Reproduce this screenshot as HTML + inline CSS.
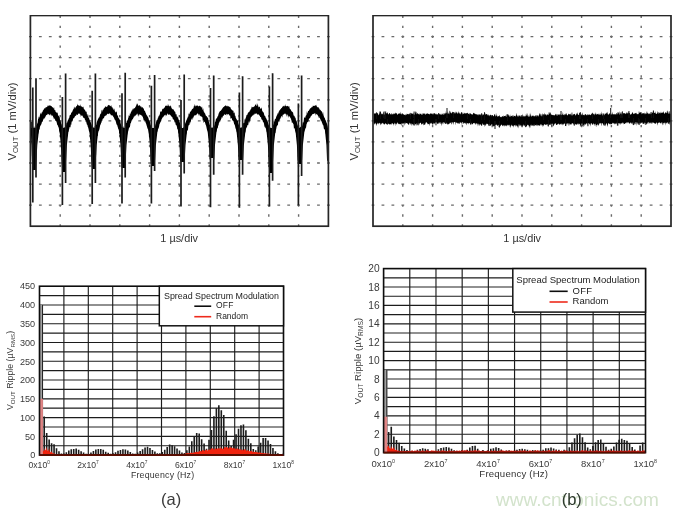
<!DOCTYPE html><html><head><meta charset="utf-8"><style>html,body{margin:0;padding:0;background:#fff;}svg{display:block;}</style></head><body>
<svg width="679" height="516" viewBox="0 0 679 516" font-family='"Liberation Sans", sans-serif'>
<defs><filter id="bl" x="0" y="0" width="1" height="1"><feGaussianBlur stdDeviation="0.6"/></filter></defs>
<rect width="679" height="516" fill="#fff"/>
<g filter="url(#bl)">
<path d="M59.5 15.75h1.4v2.3h-1.4zM59.5 25.68h1.4v2.3h-1.4zM59.5 35.61h1.4v2.3h-1.4zM59.5 45.54h1.4v2.3h-1.4zM59.5 55.47h1.4v2.3h-1.4zM59.5 65.4h1.4v2.3h-1.4zM59.5 75.33h1.4v2.3h-1.4zM59.5 85.26h1.4v2.3h-1.4zM59.5 95.19h1.4v2.3h-1.4zM59.5 105.12h1.4v2.3h-1.4zM59.5 115.05h1.4v2.3h-1.4zM59.5 124.98h1.4v2.3h-1.4zM59.5 134.91h1.4v2.3h-1.4zM59.5 144.84h1.4v2.3h-1.4zM59.5 154.77h1.4v2.3h-1.4zM59.5 164.7h1.4v2.3h-1.4zM59.5 174.63h1.4v2.3h-1.4zM59.5 184.56h1.4v2.3h-1.4zM59.5 194.49h1.4v2.3h-1.4zM59.5 204.42h1.4v2.3h-1.4zM59.5 214.35h1.4v2.3h-1.4zM59.5 224.28h1.4v2.3h-1.4zM89.3 15.75h1.4v2.3h-1.4zM89.3 25.68h1.4v2.3h-1.4zM89.3 35.61h1.4v2.3h-1.4zM89.3 45.54h1.4v2.3h-1.4zM89.3 55.47h1.4v2.3h-1.4zM89.3 65.4h1.4v2.3h-1.4zM89.3 75.33h1.4v2.3h-1.4zM89.3 85.26h1.4v2.3h-1.4zM89.3 95.19h1.4v2.3h-1.4zM89.3 105.12h1.4v2.3h-1.4zM89.3 115.05h1.4v2.3h-1.4zM89.3 124.98h1.4v2.3h-1.4zM89.3 134.91h1.4v2.3h-1.4zM89.3 144.84h1.4v2.3h-1.4zM89.3 154.77h1.4v2.3h-1.4zM89.3 164.7h1.4v2.3h-1.4zM89.3 174.63h1.4v2.3h-1.4zM89.3 184.56h1.4v2.3h-1.4zM89.3 194.49h1.4v2.3h-1.4zM89.3 204.42h1.4v2.3h-1.4zM89.3 214.35h1.4v2.3h-1.4zM89.3 224.28h1.4v2.3h-1.4zM119.1 15.75h1.4v2.3h-1.4zM119.1 25.68h1.4v2.3h-1.4zM119.1 35.61h1.4v2.3h-1.4zM119.1 45.54h1.4v2.3h-1.4zM119.1 55.47h1.4v2.3h-1.4zM119.1 65.4h1.4v2.3h-1.4zM119.1 75.33h1.4v2.3h-1.4zM119.1 85.26h1.4v2.3h-1.4zM119.1 95.19h1.4v2.3h-1.4zM119.1 105.12h1.4v2.3h-1.4zM119.1 115.05h1.4v2.3h-1.4zM119.1 124.98h1.4v2.3h-1.4zM119.1 134.91h1.4v2.3h-1.4zM119.1 144.84h1.4v2.3h-1.4zM119.1 154.77h1.4v2.3h-1.4zM119.1 164.7h1.4v2.3h-1.4zM119.1 174.63h1.4v2.3h-1.4zM119.1 184.56h1.4v2.3h-1.4zM119.1 194.49h1.4v2.3h-1.4zM119.1 204.42h1.4v2.3h-1.4zM119.1 214.35h1.4v2.3h-1.4zM119.1 224.28h1.4v2.3h-1.4zM148.9 15.75h1.4v2.3h-1.4zM148.9 25.68h1.4v2.3h-1.4zM148.9 35.61h1.4v2.3h-1.4zM148.9 45.54h1.4v2.3h-1.4zM148.9 55.47h1.4v2.3h-1.4zM148.9 65.4h1.4v2.3h-1.4zM148.9 75.33h1.4v2.3h-1.4zM148.9 85.26h1.4v2.3h-1.4zM148.9 95.19h1.4v2.3h-1.4zM148.9 105.12h1.4v2.3h-1.4zM148.9 115.05h1.4v2.3h-1.4zM148.9 124.98h1.4v2.3h-1.4zM148.9 134.91h1.4v2.3h-1.4zM148.9 144.84h1.4v2.3h-1.4zM148.9 154.77h1.4v2.3h-1.4zM148.9 164.7h1.4v2.3h-1.4zM148.9 174.63h1.4v2.3h-1.4zM148.9 184.56h1.4v2.3h-1.4zM148.9 194.49h1.4v2.3h-1.4zM148.9 204.42h1.4v2.3h-1.4zM148.9 214.35h1.4v2.3h-1.4zM148.9 224.28h1.4v2.3h-1.4zM178.7 15.75h1.4v2.3h-1.4zM178.7 25.68h1.4v2.3h-1.4zM178.7 35.61h1.4v2.3h-1.4zM178.7 45.54h1.4v2.3h-1.4zM178.7 55.47h1.4v2.3h-1.4zM178.7 65.4h1.4v2.3h-1.4zM178.7 75.33h1.4v2.3h-1.4zM178.7 85.26h1.4v2.3h-1.4zM178.7 95.19h1.4v2.3h-1.4zM178.7 105.12h1.4v2.3h-1.4zM178.7 115.05h1.4v2.3h-1.4zM178.7 124.98h1.4v2.3h-1.4zM178.7 134.91h1.4v2.3h-1.4zM178.7 144.84h1.4v2.3h-1.4zM178.7 154.77h1.4v2.3h-1.4zM178.7 164.7h1.4v2.3h-1.4zM178.7 174.63h1.4v2.3h-1.4zM178.7 184.56h1.4v2.3h-1.4zM178.7 194.49h1.4v2.3h-1.4zM178.7 204.42h1.4v2.3h-1.4zM178.7 214.35h1.4v2.3h-1.4zM178.7 224.28h1.4v2.3h-1.4zM208.5 15.75h1.4v2.3h-1.4zM208.5 25.68h1.4v2.3h-1.4zM208.5 35.61h1.4v2.3h-1.4zM208.5 45.54h1.4v2.3h-1.4zM208.5 55.47h1.4v2.3h-1.4zM208.5 65.4h1.4v2.3h-1.4zM208.5 75.33h1.4v2.3h-1.4zM208.5 85.26h1.4v2.3h-1.4zM208.5 95.19h1.4v2.3h-1.4zM208.5 105.12h1.4v2.3h-1.4zM208.5 115.05h1.4v2.3h-1.4zM208.5 124.98h1.4v2.3h-1.4zM208.5 134.91h1.4v2.3h-1.4zM208.5 144.84h1.4v2.3h-1.4zM208.5 154.77h1.4v2.3h-1.4zM208.5 164.7h1.4v2.3h-1.4zM208.5 174.63h1.4v2.3h-1.4zM208.5 184.56h1.4v2.3h-1.4zM208.5 194.49h1.4v2.3h-1.4zM208.5 204.42h1.4v2.3h-1.4zM208.5 214.35h1.4v2.3h-1.4zM208.5 224.28h1.4v2.3h-1.4zM238.3 15.75h1.4v2.3h-1.4zM238.3 25.68h1.4v2.3h-1.4zM238.3 35.61h1.4v2.3h-1.4zM238.3 45.54h1.4v2.3h-1.4zM238.3 55.47h1.4v2.3h-1.4zM238.3 65.4h1.4v2.3h-1.4zM238.3 75.33h1.4v2.3h-1.4zM238.3 85.26h1.4v2.3h-1.4zM238.3 95.19h1.4v2.3h-1.4zM238.3 105.12h1.4v2.3h-1.4zM238.3 115.05h1.4v2.3h-1.4zM238.3 124.98h1.4v2.3h-1.4zM238.3 134.91h1.4v2.3h-1.4zM238.3 144.84h1.4v2.3h-1.4zM238.3 154.77h1.4v2.3h-1.4zM238.3 164.7h1.4v2.3h-1.4zM238.3 174.63h1.4v2.3h-1.4zM238.3 184.56h1.4v2.3h-1.4zM238.3 194.49h1.4v2.3h-1.4zM238.3 204.42h1.4v2.3h-1.4zM238.3 214.35h1.4v2.3h-1.4zM238.3 224.28h1.4v2.3h-1.4zM268.1 15.75h1.4v2.3h-1.4zM268.1 25.68h1.4v2.3h-1.4zM268.1 35.61h1.4v2.3h-1.4zM268.1 45.54h1.4v2.3h-1.4zM268.1 55.47h1.4v2.3h-1.4zM268.1 65.4h1.4v2.3h-1.4zM268.1 75.33h1.4v2.3h-1.4zM268.1 85.26h1.4v2.3h-1.4zM268.1 95.19h1.4v2.3h-1.4zM268.1 105.12h1.4v2.3h-1.4zM268.1 115.05h1.4v2.3h-1.4zM268.1 124.98h1.4v2.3h-1.4zM268.1 134.91h1.4v2.3h-1.4zM268.1 144.84h1.4v2.3h-1.4zM268.1 154.77h1.4v2.3h-1.4zM268.1 164.7h1.4v2.3h-1.4zM268.1 174.63h1.4v2.3h-1.4zM268.1 184.56h1.4v2.3h-1.4zM268.1 194.49h1.4v2.3h-1.4zM268.1 204.42h1.4v2.3h-1.4zM268.1 214.35h1.4v2.3h-1.4zM268.1 224.28h1.4v2.3h-1.4zM297.9 15.75h1.4v2.3h-1.4zM297.9 25.68h1.4v2.3h-1.4zM297.9 35.61h1.4v2.3h-1.4zM297.9 45.54h1.4v2.3h-1.4zM297.9 55.47h1.4v2.3h-1.4zM297.9 65.4h1.4v2.3h-1.4zM297.9 75.33h1.4v2.3h-1.4zM297.9 85.26h1.4v2.3h-1.4zM297.9 95.19h1.4v2.3h-1.4zM297.9 105.12h1.4v2.3h-1.4zM297.9 115.05h1.4v2.3h-1.4zM297.9 124.98h1.4v2.3h-1.4zM297.9 134.91h1.4v2.3h-1.4zM297.9 144.84h1.4v2.3h-1.4zM297.9 154.77h1.4v2.3h-1.4zM297.9 164.7h1.4v2.3h-1.4zM297.9 174.63h1.4v2.3h-1.4zM297.9 184.56h1.4v2.3h-1.4zM297.9 194.49h1.4v2.3h-1.4zM297.9 204.42h1.4v2.3h-1.4zM297.9 214.35h1.4v2.3h-1.4zM297.9 224.28h1.4v2.3h-1.4zM29 35.92h2.8v1.3h-2.8zM38.93 35.92h2.8v1.3h-2.8zM48.87 35.92h2.8v1.3h-2.8zM58.8 35.92h2.8v1.3h-2.8zM68.73 35.92h2.8v1.3h-2.8zM78.67 35.92h2.8v1.3h-2.8zM88.6 35.92h2.8v1.3h-2.8zM98.53 35.92h2.8v1.3h-2.8zM108.47 35.92h2.8v1.3h-2.8zM118.4 35.92h2.8v1.3h-2.8zM128.33 35.92h2.8v1.3h-2.8zM138.27 35.92h2.8v1.3h-2.8zM148.2 35.92h2.8v1.3h-2.8zM158.13 35.92h2.8v1.3h-2.8zM168.07 35.92h2.8v1.3h-2.8zM178 35.92h2.8v1.3h-2.8zM187.93 35.92h2.8v1.3h-2.8zM197.87 35.92h2.8v1.3h-2.8zM207.8 35.92h2.8v1.3h-2.8zM217.73 35.92h2.8v1.3h-2.8zM227.67 35.92h2.8v1.3h-2.8zM237.6 35.92h2.8v1.3h-2.8zM247.53 35.92h2.8v1.3h-2.8zM257.47 35.92h2.8v1.3h-2.8zM267.4 35.92h2.8v1.3h-2.8zM277.33 35.92h2.8v1.3h-2.8zM287.27 35.92h2.8v1.3h-2.8zM297.2 35.92h2.8v1.3h-2.8zM307.13 35.92h2.8v1.3h-2.8zM317.07 35.92h2.8v1.3h-2.8zM327 35.92h2.8v1.3h-2.8zM29 56.99h2.8v1.3h-2.8zM38.93 56.99h2.8v1.3h-2.8zM48.87 56.99h2.8v1.3h-2.8zM58.8 56.99h2.8v1.3h-2.8zM68.73 56.99h2.8v1.3h-2.8zM78.67 56.99h2.8v1.3h-2.8zM88.6 56.99h2.8v1.3h-2.8zM98.53 56.99h2.8v1.3h-2.8zM108.47 56.99h2.8v1.3h-2.8zM118.4 56.99h2.8v1.3h-2.8zM128.33 56.99h2.8v1.3h-2.8zM138.27 56.99h2.8v1.3h-2.8zM148.2 56.99h2.8v1.3h-2.8zM158.13 56.99h2.8v1.3h-2.8zM168.07 56.99h2.8v1.3h-2.8zM178 56.99h2.8v1.3h-2.8zM187.93 56.99h2.8v1.3h-2.8zM197.87 56.99h2.8v1.3h-2.8zM207.8 56.99h2.8v1.3h-2.8zM217.73 56.99h2.8v1.3h-2.8zM227.67 56.99h2.8v1.3h-2.8zM237.6 56.99h2.8v1.3h-2.8zM247.53 56.99h2.8v1.3h-2.8zM257.47 56.99h2.8v1.3h-2.8zM267.4 56.99h2.8v1.3h-2.8zM277.33 56.99h2.8v1.3h-2.8zM287.27 56.99h2.8v1.3h-2.8zM297.2 56.99h2.8v1.3h-2.8zM307.13 56.99h2.8v1.3h-2.8zM317.07 56.99h2.8v1.3h-2.8zM327 56.99h2.8v1.3h-2.8zM29 78.06h2.8v1.3h-2.8zM38.93 78.06h2.8v1.3h-2.8zM48.87 78.06h2.8v1.3h-2.8zM58.8 78.06h2.8v1.3h-2.8zM68.73 78.06h2.8v1.3h-2.8zM78.67 78.06h2.8v1.3h-2.8zM88.6 78.06h2.8v1.3h-2.8zM98.53 78.06h2.8v1.3h-2.8zM108.47 78.06h2.8v1.3h-2.8zM118.4 78.06h2.8v1.3h-2.8zM128.33 78.06h2.8v1.3h-2.8zM138.27 78.06h2.8v1.3h-2.8zM148.2 78.06h2.8v1.3h-2.8zM158.13 78.06h2.8v1.3h-2.8zM168.07 78.06h2.8v1.3h-2.8zM178 78.06h2.8v1.3h-2.8zM187.93 78.06h2.8v1.3h-2.8zM197.87 78.06h2.8v1.3h-2.8zM207.8 78.06h2.8v1.3h-2.8zM217.73 78.06h2.8v1.3h-2.8zM227.67 78.06h2.8v1.3h-2.8zM237.6 78.06h2.8v1.3h-2.8zM247.53 78.06h2.8v1.3h-2.8zM257.47 78.06h2.8v1.3h-2.8zM267.4 78.06h2.8v1.3h-2.8zM277.33 78.06h2.8v1.3h-2.8zM287.27 78.06h2.8v1.3h-2.8zM297.2 78.06h2.8v1.3h-2.8zM307.13 78.06h2.8v1.3h-2.8zM317.07 78.06h2.8v1.3h-2.8zM327 78.06h2.8v1.3h-2.8zM29 99.13h2.8v1.3h-2.8zM38.93 99.13h2.8v1.3h-2.8zM48.87 99.13h2.8v1.3h-2.8zM58.8 99.13h2.8v1.3h-2.8zM68.73 99.13h2.8v1.3h-2.8zM78.67 99.13h2.8v1.3h-2.8zM88.6 99.13h2.8v1.3h-2.8zM98.53 99.13h2.8v1.3h-2.8zM108.47 99.13h2.8v1.3h-2.8zM118.4 99.13h2.8v1.3h-2.8zM128.33 99.13h2.8v1.3h-2.8zM138.27 99.13h2.8v1.3h-2.8zM148.2 99.13h2.8v1.3h-2.8zM158.13 99.13h2.8v1.3h-2.8zM168.07 99.13h2.8v1.3h-2.8zM178 99.13h2.8v1.3h-2.8zM187.93 99.13h2.8v1.3h-2.8zM197.87 99.13h2.8v1.3h-2.8zM207.8 99.13h2.8v1.3h-2.8zM217.73 99.13h2.8v1.3h-2.8zM227.67 99.13h2.8v1.3h-2.8zM237.6 99.13h2.8v1.3h-2.8zM247.53 99.13h2.8v1.3h-2.8zM257.47 99.13h2.8v1.3h-2.8zM267.4 99.13h2.8v1.3h-2.8zM277.33 99.13h2.8v1.3h-2.8zM287.27 99.13h2.8v1.3h-2.8zM297.2 99.13h2.8v1.3h-2.8zM307.13 99.13h2.8v1.3h-2.8zM317.07 99.13h2.8v1.3h-2.8zM327 99.13h2.8v1.3h-2.8zM29 120.2h2.8v1.3h-2.8zM38.93 120.2h2.8v1.3h-2.8zM48.87 120.2h2.8v1.3h-2.8zM58.8 120.2h2.8v1.3h-2.8zM68.73 120.2h2.8v1.3h-2.8zM78.67 120.2h2.8v1.3h-2.8zM88.6 120.2h2.8v1.3h-2.8zM98.53 120.2h2.8v1.3h-2.8zM108.47 120.2h2.8v1.3h-2.8zM118.4 120.2h2.8v1.3h-2.8zM128.33 120.2h2.8v1.3h-2.8zM138.27 120.2h2.8v1.3h-2.8zM148.2 120.2h2.8v1.3h-2.8zM158.13 120.2h2.8v1.3h-2.8zM168.07 120.2h2.8v1.3h-2.8zM178 120.2h2.8v1.3h-2.8zM187.93 120.2h2.8v1.3h-2.8zM197.87 120.2h2.8v1.3h-2.8zM207.8 120.2h2.8v1.3h-2.8zM217.73 120.2h2.8v1.3h-2.8zM227.67 120.2h2.8v1.3h-2.8zM237.6 120.2h2.8v1.3h-2.8zM247.53 120.2h2.8v1.3h-2.8zM257.47 120.2h2.8v1.3h-2.8zM267.4 120.2h2.8v1.3h-2.8zM277.33 120.2h2.8v1.3h-2.8zM287.27 120.2h2.8v1.3h-2.8zM297.2 120.2h2.8v1.3h-2.8zM307.13 120.2h2.8v1.3h-2.8zM317.07 120.2h2.8v1.3h-2.8zM327 120.2h2.8v1.3h-2.8zM29 141.27h2.8v1.3h-2.8zM38.93 141.27h2.8v1.3h-2.8zM48.87 141.27h2.8v1.3h-2.8zM58.8 141.27h2.8v1.3h-2.8zM68.73 141.27h2.8v1.3h-2.8zM78.67 141.27h2.8v1.3h-2.8zM88.6 141.27h2.8v1.3h-2.8zM98.53 141.27h2.8v1.3h-2.8zM108.47 141.27h2.8v1.3h-2.8zM118.4 141.27h2.8v1.3h-2.8zM128.33 141.27h2.8v1.3h-2.8zM138.27 141.27h2.8v1.3h-2.8zM148.2 141.27h2.8v1.3h-2.8zM158.13 141.27h2.8v1.3h-2.8zM168.07 141.27h2.8v1.3h-2.8zM178 141.27h2.8v1.3h-2.8zM187.93 141.27h2.8v1.3h-2.8zM197.87 141.27h2.8v1.3h-2.8zM207.8 141.27h2.8v1.3h-2.8zM217.73 141.27h2.8v1.3h-2.8zM227.67 141.27h2.8v1.3h-2.8zM237.6 141.27h2.8v1.3h-2.8zM247.53 141.27h2.8v1.3h-2.8zM257.47 141.27h2.8v1.3h-2.8zM267.4 141.27h2.8v1.3h-2.8zM277.33 141.27h2.8v1.3h-2.8zM287.27 141.27h2.8v1.3h-2.8zM297.2 141.27h2.8v1.3h-2.8zM307.13 141.27h2.8v1.3h-2.8zM317.07 141.27h2.8v1.3h-2.8zM327 141.27h2.8v1.3h-2.8zM29 162.34h2.8v1.3h-2.8zM38.93 162.34h2.8v1.3h-2.8zM48.87 162.34h2.8v1.3h-2.8zM58.8 162.34h2.8v1.3h-2.8zM68.73 162.34h2.8v1.3h-2.8zM78.67 162.34h2.8v1.3h-2.8zM88.6 162.34h2.8v1.3h-2.8zM98.53 162.34h2.8v1.3h-2.8zM108.47 162.34h2.8v1.3h-2.8zM118.4 162.34h2.8v1.3h-2.8zM128.33 162.34h2.8v1.3h-2.8zM138.27 162.34h2.8v1.3h-2.8zM148.2 162.34h2.8v1.3h-2.8zM158.13 162.34h2.8v1.3h-2.8zM168.07 162.34h2.8v1.3h-2.8zM178 162.34h2.8v1.3h-2.8zM187.93 162.34h2.8v1.3h-2.8zM197.87 162.34h2.8v1.3h-2.8zM207.8 162.34h2.8v1.3h-2.8zM217.73 162.34h2.8v1.3h-2.8zM227.67 162.34h2.8v1.3h-2.8zM237.6 162.34h2.8v1.3h-2.8zM247.53 162.34h2.8v1.3h-2.8zM257.47 162.34h2.8v1.3h-2.8zM267.4 162.34h2.8v1.3h-2.8zM277.33 162.34h2.8v1.3h-2.8zM287.27 162.34h2.8v1.3h-2.8zM297.2 162.34h2.8v1.3h-2.8zM307.13 162.34h2.8v1.3h-2.8zM317.07 162.34h2.8v1.3h-2.8zM327 162.34h2.8v1.3h-2.8zM29 183.41h2.8v1.3h-2.8zM38.93 183.41h2.8v1.3h-2.8zM48.87 183.41h2.8v1.3h-2.8zM58.8 183.41h2.8v1.3h-2.8zM68.73 183.41h2.8v1.3h-2.8zM78.67 183.41h2.8v1.3h-2.8zM88.6 183.41h2.8v1.3h-2.8zM98.53 183.41h2.8v1.3h-2.8zM108.47 183.41h2.8v1.3h-2.8zM118.4 183.41h2.8v1.3h-2.8zM128.33 183.41h2.8v1.3h-2.8zM138.27 183.41h2.8v1.3h-2.8zM148.2 183.41h2.8v1.3h-2.8zM158.13 183.41h2.8v1.3h-2.8zM168.07 183.41h2.8v1.3h-2.8zM178 183.41h2.8v1.3h-2.8zM187.93 183.41h2.8v1.3h-2.8zM197.87 183.41h2.8v1.3h-2.8zM207.8 183.41h2.8v1.3h-2.8zM217.73 183.41h2.8v1.3h-2.8zM227.67 183.41h2.8v1.3h-2.8zM237.6 183.41h2.8v1.3h-2.8zM247.53 183.41h2.8v1.3h-2.8zM257.47 183.41h2.8v1.3h-2.8zM267.4 183.41h2.8v1.3h-2.8zM277.33 183.41h2.8v1.3h-2.8zM287.27 183.41h2.8v1.3h-2.8zM297.2 183.41h2.8v1.3h-2.8zM307.13 183.41h2.8v1.3h-2.8zM317.07 183.41h2.8v1.3h-2.8zM327 183.41h2.8v1.3h-2.8zM29 204.48h2.8v1.3h-2.8zM38.93 204.48h2.8v1.3h-2.8zM48.87 204.48h2.8v1.3h-2.8zM58.8 204.48h2.8v1.3h-2.8zM68.73 204.48h2.8v1.3h-2.8zM78.67 204.48h2.8v1.3h-2.8zM88.6 204.48h2.8v1.3h-2.8zM98.53 204.48h2.8v1.3h-2.8zM108.47 204.48h2.8v1.3h-2.8zM118.4 204.48h2.8v1.3h-2.8zM128.33 204.48h2.8v1.3h-2.8zM138.27 204.48h2.8v1.3h-2.8zM148.2 204.48h2.8v1.3h-2.8zM158.13 204.48h2.8v1.3h-2.8zM168.07 204.48h2.8v1.3h-2.8zM178 204.48h2.8v1.3h-2.8zM187.93 204.48h2.8v1.3h-2.8zM197.87 204.48h2.8v1.3h-2.8zM207.8 204.48h2.8v1.3h-2.8zM217.73 204.48h2.8v1.3h-2.8zM227.67 204.48h2.8v1.3h-2.8zM237.6 204.48h2.8v1.3h-2.8zM247.53 204.48h2.8v1.3h-2.8zM257.47 204.48h2.8v1.3h-2.8zM267.4 204.48h2.8v1.3h-2.8zM277.33 204.48h2.8v1.3h-2.8zM287.27 204.48h2.8v1.3h-2.8zM297.2 204.48h2.8v1.3h-2.8zM307.13 204.48h2.8v1.3h-2.8zM317.07 204.48h2.8v1.3h-2.8zM327 204.48h2.8v1.3h-2.8z" fill="#6a6a6a"/>
<rect x="30.4" y="15.5" width="298" height="210.7" fill="none" stroke="#262626" stroke-width="1.7"/>
<path d="M402.1 15.75h1.4v2.3h-1.4zM402.1 25.68h1.4v2.3h-1.4zM402.1 35.61h1.4v2.3h-1.4zM402.1 45.54h1.4v2.3h-1.4zM402.1 55.47h1.4v2.3h-1.4zM402.1 65.4h1.4v2.3h-1.4zM402.1 75.33h1.4v2.3h-1.4zM402.1 85.26h1.4v2.3h-1.4zM402.1 95.19h1.4v2.3h-1.4zM402.1 105.12h1.4v2.3h-1.4zM402.1 115.05h1.4v2.3h-1.4zM402.1 124.98h1.4v2.3h-1.4zM402.1 134.91h1.4v2.3h-1.4zM402.1 144.84h1.4v2.3h-1.4zM402.1 154.77h1.4v2.3h-1.4zM402.1 164.7h1.4v2.3h-1.4zM402.1 174.63h1.4v2.3h-1.4zM402.1 184.56h1.4v2.3h-1.4zM402.1 194.49h1.4v2.3h-1.4zM402.1 204.42h1.4v2.3h-1.4zM402.1 214.35h1.4v2.3h-1.4zM402.1 224.28h1.4v2.3h-1.4zM431.9 15.75h1.4v2.3h-1.4zM431.9 25.68h1.4v2.3h-1.4zM431.9 35.61h1.4v2.3h-1.4zM431.9 45.54h1.4v2.3h-1.4zM431.9 55.47h1.4v2.3h-1.4zM431.9 65.4h1.4v2.3h-1.4zM431.9 75.33h1.4v2.3h-1.4zM431.9 85.26h1.4v2.3h-1.4zM431.9 95.19h1.4v2.3h-1.4zM431.9 105.12h1.4v2.3h-1.4zM431.9 115.05h1.4v2.3h-1.4zM431.9 124.98h1.4v2.3h-1.4zM431.9 134.91h1.4v2.3h-1.4zM431.9 144.84h1.4v2.3h-1.4zM431.9 154.77h1.4v2.3h-1.4zM431.9 164.7h1.4v2.3h-1.4zM431.9 174.63h1.4v2.3h-1.4zM431.9 184.56h1.4v2.3h-1.4zM431.9 194.49h1.4v2.3h-1.4zM431.9 204.42h1.4v2.3h-1.4zM431.9 214.35h1.4v2.3h-1.4zM431.9 224.28h1.4v2.3h-1.4zM461.7 15.75h1.4v2.3h-1.4zM461.7 25.68h1.4v2.3h-1.4zM461.7 35.61h1.4v2.3h-1.4zM461.7 45.54h1.4v2.3h-1.4zM461.7 55.47h1.4v2.3h-1.4zM461.7 65.4h1.4v2.3h-1.4zM461.7 75.33h1.4v2.3h-1.4zM461.7 85.26h1.4v2.3h-1.4zM461.7 95.19h1.4v2.3h-1.4zM461.7 105.12h1.4v2.3h-1.4zM461.7 115.05h1.4v2.3h-1.4zM461.7 124.98h1.4v2.3h-1.4zM461.7 134.91h1.4v2.3h-1.4zM461.7 144.84h1.4v2.3h-1.4zM461.7 154.77h1.4v2.3h-1.4zM461.7 164.7h1.4v2.3h-1.4zM461.7 174.63h1.4v2.3h-1.4zM461.7 184.56h1.4v2.3h-1.4zM461.7 194.49h1.4v2.3h-1.4zM461.7 204.42h1.4v2.3h-1.4zM461.7 214.35h1.4v2.3h-1.4zM461.7 224.28h1.4v2.3h-1.4zM491.5 15.75h1.4v2.3h-1.4zM491.5 25.68h1.4v2.3h-1.4zM491.5 35.61h1.4v2.3h-1.4zM491.5 45.54h1.4v2.3h-1.4zM491.5 55.47h1.4v2.3h-1.4zM491.5 65.4h1.4v2.3h-1.4zM491.5 75.33h1.4v2.3h-1.4zM491.5 85.26h1.4v2.3h-1.4zM491.5 95.19h1.4v2.3h-1.4zM491.5 105.12h1.4v2.3h-1.4zM491.5 115.05h1.4v2.3h-1.4zM491.5 124.98h1.4v2.3h-1.4zM491.5 134.91h1.4v2.3h-1.4zM491.5 144.84h1.4v2.3h-1.4zM491.5 154.77h1.4v2.3h-1.4zM491.5 164.7h1.4v2.3h-1.4zM491.5 174.63h1.4v2.3h-1.4zM491.5 184.56h1.4v2.3h-1.4zM491.5 194.49h1.4v2.3h-1.4zM491.5 204.42h1.4v2.3h-1.4zM491.5 214.35h1.4v2.3h-1.4zM491.5 224.28h1.4v2.3h-1.4zM521.3 15.75h1.4v2.3h-1.4zM521.3 25.68h1.4v2.3h-1.4zM521.3 35.61h1.4v2.3h-1.4zM521.3 45.54h1.4v2.3h-1.4zM521.3 55.47h1.4v2.3h-1.4zM521.3 65.4h1.4v2.3h-1.4zM521.3 75.33h1.4v2.3h-1.4zM521.3 85.26h1.4v2.3h-1.4zM521.3 95.19h1.4v2.3h-1.4zM521.3 105.12h1.4v2.3h-1.4zM521.3 115.05h1.4v2.3h-1.4zM521.3 124.98h1.4v2.3h-1.4zM521.3 134.91h1.4v2.3h-1.4zM521.3 144.84h1.4v2.3h-1.4zM521.3 154.77h1.4v2.3h-1.4zM521.3 164.7h1.4v2.3h-1.4zM521.3 174.63h1.4v2.3h-1.4zM521.3 184.56h1.4v2.3h-1.4zM521.3 194.49h1.4v2.3h-1.4zM521.3 204.42h1.4v2.3h-1.4zM521.3 214.35h1.4v2.3h-1.4zM521.3 224.28h1.4v2.3h-1.4zM551.1 15.75h1.4v2.3h-1.4zM551.1 25.68h1.4v2.3h-1.4zM551.1 35.61h1.4v2.3h-1.4zM551.1 45.54h1.4v2.3h-1.4zM551.1 55.47h1.4v2.3h-1.4zM551.1 65.4h1.4v2.3h-1.4zM551.1 75.33h1.4v2.3h-1.4zM551.1 85.26h1.4v2.3h-1.4zM551.1 95.19h1.4v2.3h-1.4zM551.1 105.12h1.4v2.3h-1.4zM551.1 115.05h1.4v2.3h-1.4zM551.1 124.98h1.4v2.3h-1.4zM551.1 134.91h1.4v2.3h-1.4zM551.1 144.84h1.4v2.3h-1.4zM551.1 154.77h1.4v2.3h-1.4zM551.1 164.7h1.4v2.3h-1.4zM551.1 174.63h1.4v2.3h-1.4zM551.1 184.56h1.4v2.3h-1.4zM551.1 194.49h1.4v2.3h-1.4zM551.1 204.42h1.4v2.3h-1.4zM551.1 214.35h1.4v2.3h-1.4zM551.1 224.28h1.4v2.3h-1.4zM580.9 15.75h1.4v2.3h-1.4zM580.9 25.68h1.4v2.3h-1.4zM580.9 35.61h1.4v2.3h-1.4zM580.9 45.54h1.4v2.3h-1.4zM580.9 55.47h1.4v2.3h-1.4zM580.9 65.4h1.4v2.3h-1.4zM580.9 75.33h1.4v2.3h-1.4zM580.9 85.26h1.4v2.3h-1.4zM580.9 95.19h1.4v2.3h-1.4zM580.9 105.12h1.4v2.3h-1.4zM580.9 115.05h1.4v2.3h-1.4zM580.9 124.98h1.4v2.3h-1.4zM580.9 134.91h1.4v2.3h-1.4zM580.9 144.84h1.4v2.3h-1.4zM580.9 154.77h1.4v2.3h-1.4zM580.9 164.7h1.4v2.3h-1.4zM580.9 174.63h1.4v2.3h-1.4zM580.9 184.56h1.4v2.3h-1.4zM580.9 194.49h1.4v2.3h-1.4zM580.9 204.42h1.4v2.3h-1.4zM580.9 214.35h1.4v2.3h-1.4zM580.9 224.28h1.4v2.3h-1.4zM610.7 15.75h1.4v2.3h-1.4zM610.7 25.68h1.4v2.3h-1.4zM610.7 35.61h1.4v2.3h-1.4zM610.7 45.54h1.4v2.3h-1.4zM610.7 55.47h1.4v2.3h-1.4zM610.7 65.4h1.4v2.3h-1.4zM610.7 75.33h1.4v2.3h-1.4zM610.7 85.26h1.4v2.3h-1.4zM610.7 95.19h1.4v2.3h-1.4zM610.7 105.12h1.4v2.3h-1.4zM610.7 115.05h1.4v2.3h-1.4zM610.7 124.98h1.4v2.3h-1.4zM610.7 134.91h1.4v2.3h-1.4zM610.7 144.84h1.4v2.3h-1.4zM610.7 154.77h1.4v2.3h-1.4zM610.7 164.7h1.4v2.3h-1.4zM610.7 174.63h1.4v2.3h-1.4zM610.7 184.56h1.4v2.3h-1.4zM610.7 194.49h1.4v2.3h-1.4zM610.7 204.42h1.4v2.3h-1.4zM610.7 214.35h1.4v2.3h-1.4zM610.7 224.28h1.4v2.3h-1.4zM640.5 15.75h1.4v2.3h-1.4zM640.5 25.68h1.4v2.3h-1.4zM640.5 35.61h1.4v2.3h-1.4zM640.5 45.54h1.4v2.3h-1.4zM640.5 55.47h1.4v2.3h-1.4zM640.5 65.4h1.4v2.3h-1.4zM640.5 75.33h1.4v2.3h-1.4zM640.5 85.26h1.4v2.3h-1.4zM640.5 95.19h1.4v2.3h-1.4zM640.5 105.12h1.4v2.3h-1.4zM640.5 115.05h1.4v2.3h-1.4zM640.5 124.98h1.4v2.3h-1.4zM640.5 134.91h1.4v2.3h-1.4zM640.5 144.84h1.4v2.3h-1.4zM640.5 154.77h1.4v2.3h-1.4zM640.5 164.7h1.4v2.3h-1.4zM640.5 174.63h1.4v2.3h-1.4zM640.5 184.56h1.4v2.3h-1.4zM640.5 194.49h1.4v2.3h-1.4zM640.5 204.42h1.4v2.3h-1.4zM640.5 214.35h1.4v2.3h-1.4zM640.5 224.28h1.4v2.3h-1.4zM371.6 35.92h2.8v1.3h-2.8zM381.53 35.92h2.8v1.3h-2.8zM391.47 35.92h2.8v1.3h-2.8zM401.4 35.92h2.8v1.3h-2.8zM411.33 35.92h2.8v1.3h-2.8zM421.27 35.92h2.8v1.3h-2.8zM431.2 35.92h2.8v1.3h-2.8zM441.13 35.92h2.8v1.3h-2.8zM451.07 35.92h2.8v1.3h-2.8zM461 35.92h2.8v1.3h-2.8zM470.93 35.92h2.8v1.3h-2.8zM480.87 35.92h2.8v1.3h-2.8zM490.8 35.92h2.8v1.3h-2.8zM500.73 35.92h2.8v1.3h-2.8zM510.67 35.92h2.8v1.3h-2.8zM520.6 35.92h2.8v1.3h-2.8zM530.53 35.92h2.8v1.3h-2.8zM540.47 35.92h2.8v1.3h-2.8zM550.4 35.92h2.8v1.3h-2.8zM560.33 35.92h2.8v1.3h-2.8zM570.27 35.92h2.8v1.3h-2.8zM580.2 35.92h2.8v1.3h-2.8zM590.13 35.92h2.8v1.3h-2.8zM600.07 35.92h2.8v1.3h-2.8zM610 35.92h2.8v1.3h-2.8zM619.93 35.92h2.8v1.3h-2.8zM629.87 35.92h2.8v1.3h-2.8zM639.8 35.92h2.8v1.3h-2.8zM649.73 35.92h2.8v1.3h-2.8zM659.67 35.92h2.8v1.3h-2.8zM669.6 35.92h2.8v1.3h-2.8zM371.6 56.99h2.8v1.3h-2.8zM381.53 56.99h2.8v1.3h-2.8zM391.47 56.99h2.8v1.3h-2.8zM401.4 56.99h2.8v1.3h-2.8zM411.33 56.99h2.8v1.3h-2.8zM421.27 56.99h2.8v1.3h-2.8zM431.2 56.99h2.8v1.3h-2.8zM441.13 56.99h2.8v1.3h-2.8zM451.07 56.99h2.8v1.3h-2.8zM461 56.99h2.8v1.3h-2.8zM470.93 56.99h2.8v1.3h-2.8zM480.87 56.99h2.8v1.3h-2.8zM490.8 56.99h2.8v1.3h-2.8zM500.73 56.99h2.8v1.3h-2.8zM510.67 56.99h2.8v1.3h-2.8zM520.6 56.99h2.8v1.3h-2.8zM530.53 56.99h2.8v1.3h-2.8zM540.47 56.99h2.8v1.3h-2.8zM550.4 56.99h2.8v1.3h-2.8zM560.33 56.99h2.8v1.3h-2.8zM570.27 56.99h2.8v1.3h-2.8zM580.2 56.99h2.8v1.3h-2.8zM590.13 56.99h2.8v1.3h-2.8zM600.07 56.99h2.8v1.3h-2.8zM610 56.99h2.8v1.3h-2.8zM619.93 56.99h2.8v1.3h-2.8zM629.87 56.99h2.8v1.3h-2.8zM639.8 56.99h2.8v1.3h-2.8zM649.73 56.99h2.8v1.3h-2.8zM659.67 56.99h2.8v1.3h-2.8zM669.6 56.99h2.8v1.3h-2.8zM371.6 78.06h2.8v1.3h-2.8zM381.53 78.06h2.8v1.3h-2.8zM391.47 78.06h2.8v1.3h-2.8zM401.4 78.06h2.8v1.3h-2.8zM411.33 78.06h2.8v1.3h-2.8zM421.27 78.06h2.8v1.3h-2.8zM431.2 78.06h2.8v1.3h-2.8zM441.13 78.06h2.8v1.3h-2.8zM451.07 78.06h2.8v1.3h-2.8zM461 78.06h2.8v1.3h-2.8zM470.93 78.06h2.8v1.3h-2.8zM480.87 78.06h2.8v1.3h-2.8zM490.8 78.06h2.8v1.3h-2.8zM500.73 78.06h2.8v1.3h-2.8zM510.67 78.06h2.8v1.3h-2.8zM520.6 78.06h2.8v1.3h-2.8zM530.53 78.06h2.8v1.3h-2.8zM540.47 78.06h2.8v1.3h-2.8zM550.4 78.06h2.8v1.3h-2.8zM560.33 78.06h2.8v1.3h-2.8zM570.27 78.06h2.8v1.3h-2.8zM580.2 78.06h2.8v1.3h-2.8zM590.13 78.06h2.8v1.3h-2.8zM600.07 78.06h2.8v1.3h-2.8zM610 78.06h2.8v1.3h-2.8zM619.93 78.06h2.8v1.3h-2.8zM629.87 78.06h2.8v1.3h-2.8zM639.8 78.06h2.8v1.3h-2.8zM649.73 78.06h2.8v1.3h-2.8zM659.67 78.06h2.8v1.3h-2.8zM669.6 78.06h2.8v1.3h-2.8zM371.6 99.13h2.8v1.3h-2.8zM381.53 99.13h2.8v1.3h-2.8zM391.47 99.13h2.8v1.3h-2.8zM401.4 99.13h2.8v1.3h-2.8zM411.33 99.13h2.8v1.3h-2.8zM421.27 99.13h2.8v1.3h-2.8zM431.2 99.13h2.8v1.3h-2.8zM441.13 99.13h2.8v1.3h-2.8zM451.07 99.13h2.8v1.3h-2.8zM461 99.13h2.8v1.3h-2.8zM470.93 99.13h2.8v1.3h-2.8zM480.87 99.13h2.8v1.3h-2.8zM490.8 99.13h2.8v1.3h-2.8zM500.73 99.13h2.8v1.3h-2.8zM510.67 99.13h2.8v1.3h-2.8zM520.6 99.13h2.8v1.3h-2.8zM530.53 99.13h2.8v1.3h-2.8zM540.47 99.13h2.8v1.3h-2.8zM550.4 99.13h2.8v1.3h-2.8zM560.33 99.13h2.8v1.3h-2.8zM570.27 99.13h2.8v1.3h-2.8zM580.2 99.13h2.8v1.3h-2.8zM590.13 99.13h2.8v1.3h-2.8zM600.07 99.13h2.8v1.3h-2.8zM610 99.13h2.8v1.3h-2.8zM619.93 99.13h2.8v1.3h-2.8zM629.87 99.13h2.8v1.3h-2.8zM639.8 99.13h2.8v1.3h-2.8zM649.73 99.13h2.8v1.3h-2.8zM659.67 99.13h2.8v1.3h-2.8zM669.6 99.13h2.8v1.3h-2.8zM371.6 120.2h2.8v1.3h-2.8zM381.53 120.2h2.8v1.3h-2.8zM391.47 120.2h2.8v1.3h-2.8zM401.4 120.2h2.8v1.3h-2.8zM411.33 120.2h2.8v1.3h-2.8zM421.27 120.2h2.8v1.3h-2.8zM431.2 120.2h2.8v1.3h-2.8zM441.13 120.2h2.8v1.3h-2.8zM451.07 120.2h2.8v1.3h-2.8zM461 120.2h2.8v1.3h-2.8zM470.93 120.2h2.8v1.3h-2.8zM480.87 120.2h2.8v1.3h-2.8zM490.8 120.2h2.8v1.3h-2.8zM500.73 120.2h2.8v1.3h-2.8zM510.67 120.2h2.8v1.3h-2.8zM520.6 120.2h2.8v1.3h-2.8zM530.53 120.2h2.8v1.3h-2.8zM540.47 120.2h2.8v1.3h-2.8zM550.4 120.2h2.8v1.3h-2.8zM560.33 120.2h2.8v1.3h-2.8zM570.27 120.2h2.8v1.3h-2.8zM580.2 120.2h2.8v1.3h-2.8zM590.13 120.2h2.8v1.3h-2.8zM600.07 120.2h2.8v1.3h-2.8zM610 120.2h2.8v1.3h-2.8zM619.93 120.2h2.8v1.3h-2.8zM629.87 120.2h2.8v1.3h-2.8zM639.8 120.2h2.8v1.3h-2.8zM649.73 120.2h2.8v1.3h-2.8zM659.67 120.2h2.8v1.3h-2.8zM669.6 120.2h2.8v1.3h-2.8zM371.6 141.27h2.8v1.3h-2.8zM381.53 141.27h2.8v1.3h-2.8zM391.47 141.27h2.8v1.3h-2.8zM401.4 141.27h2.8v1.3h-2.8zM411.33 141.27h2.8v1.3h-2.8zM421.27 141.27h2.8v1.3h-2.8zM431.2 141.27h2.8v1.3h-2.8zM441.13 141.27h2.8v1.3h-2.8zM451.07 141.27h2.8v1.3h-2.8zM461 141.27h2.8v1.3h-2.8zM470.93 141.27h2.8v1.3h-2.8zM480.87 141.27h2.8v1.3h-2.8zM490.8 141.27h2.8v1.3h-2.8zM500.73 141.27h2.8v1.3h-2.8zM510.67 141.27h2.8v1.3h-2.8zM520.6 141.27h2.8v1.3h-2.8zM530.53 141.27h2.8v1.3h-2.8zM540.47 141.27h2.8v1.3h-2.8zM550.4 141.27h2.8v1.3h-2.8zM560.33 141.27h2.8v1.3h-2.8zM570.27 141.27h2.8v1.3h-2.8zM580.2 141.27h2.8v1.3h-2.8zM590.13 141.27h2.8v1.3h-2.8zM600.07 141.27h2.8v1.3h-2.8zM610 141.27h2.8v1.3h-2.8zM619.93 141.27h2.8v1.3h-2.8zM629.87 141.27h2.8v1.3h-2.8zM639.8 141.27h2.8v1.3h-2.8zM649.73 141.27h2.8v1.3h-2.8zM659.67 141.27h2.8v1.3h-2.8zM669.6 141.27h2.8v1.3h-2.8zM371.6 162.34h2.8v1.3h-2.8zM381.53 162.34h2.8v1.3h-2.8zM391.47 162.34h2.8v1.3h-2.8zM401.4 162.34h2.8v1.3h-2.8zM411.33 162.34h2.8v1.3h-2.8zM421.27 162.34h2.8v1.3h-2.8zM431.2 162.34h2.8v1.3h-2.8zM441.13 162.34h2.8v1.3h-2.8zM451.07 162.34h2.8v1.3h-2.8zM461 162.34h2.8v1.3h-2.8zM470.93 162.34h2.8v1.3h-2.8zM480.87 162.34h2.8v1.3h-2.8zM490.8 162.34h2.8v1.3h-2.8zM500.73 162.34h2.8v1.3h-2.8zM510.67 162.34h2.8v1.3h-2.8zM520.6 162.34h2.8v1.3h-2.8zM530.53 162.34h2.8v1.3h-2.8zM540.47 162.34h2.8v1.3h-2.8zM550.4 162.34h2.8v1.3h-2.8zM560.33 162.34h2.8v1.3h-2.8zM570.27 162.34h2.8v1.3h-2.8zM580.2 162.34h2.8v1.3h-2.8zM590.13 162.34h2.8v1.3h-2.8zM600.07 162.34h2.8v1.3h-2.8zM610 162.34h2.8v1.3h-2.8zM619.93 162.34h2.8v1.3h-2.8zM629.87 162.34h2.8v1.3h-2.8zM639.8 162.34h2.8v1.3h-2.8zM649.73 162.34h2.8v1.3h-2.8zM659.67 162.34h2.8v1.3h-2.8zM669.6 162.34h2.8v1.3h-2.8zM371.6 183.41h2.8v1.3h-2.8zM381.53 183.41h2.8v1.3h-2.8zM391.47 183.41h2.8v1.3h-2.8zM401.4 183.41h2.8v1.3h-2.8zM411.33 183.41h2.8v1.3h-2.8zM421.27 183.41h2.8v1.3h-2.8zM431.2 183.41h2.8v1.3h-2.8zM441.13 183.41h2.8v1.3h-2.8zM451.07 183.41h2.8v1.3h-2.8zM461 183.41h2.8v1.3h-2.8zM470.93 183.41h2.8v1.3h-2.8zM480.87 183.41h2.8v1.3h-2.8zM490.8 183.41h2.8v1.3h-2.8zM500.73 183.41h2.8v1.3h-2.8zM510.67 183.41h2.8v1.3h-2.8zM520.6 183.41h2.8v1.3h-2.8zM530.53 183.41h2.8v1.3h-2.8zM540.47 183.41h2.8v1.3h-2.8zM550.4 183.41h2.8v1.3h-2.8zM560.33 183.41h2.8v1.3h-2.8zM570.27 183.41h2.8v1.3h-2.8zM580.2 183.41h2.8v1.3h-2.8zM590.13 183.41h2.8v1.3h-2.8zM600.07 183.41h2.8v1.3h-2.8zM610 183.41h2.8v1.3h-2.8zM619.93 183.41h2.8v1.3h-2.8zM629.87 183.41h2.8v1.3h-2.8zM639.8 183.41h2.8v1.3h-2.8zM649.73 183.41h2.8v1.3h-2.8zM659.67 183.41h2.8v1.3h-2.8zM669.6 183.41h2.8v1.3h-2.8zM371.6 204.48h2.8v1.3h-2.8zM381.53 204.48h2.8v1.3h-2.8zM391.47 204.48h2.8v1.3h-2.8zM401.4 204.48h2.8v1.3h-2.8zM411.33 204.48h2.8v1.3h-2.8zM421.27 204.48h2.8v1.3h-2.8zM431.2 204.48h2.8v1.3h-2.8zM441.13 204.48h2.8v1.3h-2.8zM451.07 204.48h2.8v1.3h-2.8zM461 204.48h2.8v1.3h-2.8zM470.93 204.48h2.8v1.3h-2.8zM480.87 204.48h2.8v1.3h-2.8zM490.8 204.48h2.8v1.3h-2.8zM500.73 204.48h2.8v1.3h-2.8zM510.67 204.48h2.8v1.3h-2.8zM520.6 204.48h2.8v1.3h-2.8zM530.53 204.48h2.8v1.3h-2.8zM540.47 204.48h2.8v1.3h-2.8zM550.4 204.48h2.8v1.3h-2.8zM560.33 204.48h2.8v1.3h-2.8zM570.27 204.48h2.8v1.3h-2.8zM580.2 204.48h2.8v1.3h-2.8zM590.13 204.48h2.8v1.3h-2.8zM600.07 204.48h2.8v1.3h-2.8zM610 204.48h2.8v1.3h-2.8zM619.93 204.48h2.8v1.3h-2.8zM629.87 204.48h2.8v1.3h-2.8zM639.8 204.48h2.8v1.3h-2.8zM649.73 204.48h2.8v1.3h-2.8zM659.67 204.48h2.8v1.3h-2.8zM669.6 204.48h2.8v1.3h-2.8z" fill="#6a6a6a"/>
<rect x="373" y="15.5" width="298" height="210.7" fill="none" stroke="#262626" stroke-width="1.7"/>
<clipPath id="cl"><rect x="31.2" y="16" width="296.6" height="209.5"/></clipPath><g clip-path="url(#cl)">
<path d="M27.12 112.75 L27.53 113.57 L27.93 113.89 L28.33 114.8 L28.74 116.38 L29.14 115.34 L29.55 117.54 L29.95 117.76 L30.36 119.86 L30.76 120.67 L31.16 122.18 L31.57 121.22 L31.97 121.85 L32.38 125.89 L32.78 127.78 L33.19 128.51 L33.59 128.04 L34 125.92 L34.4 127.19 L34.4 143.49 L34 144.47 L33.59 144.99 L33.19 146.21 L32.78 144.12 L32.38 142.03 L31.97 139.37 L31.57 138.32 L31.16 135.87 L30.76 134.69 L30.36 132.4 L29.95 130.54 L29.55 129.99 L29.14 127.98 L28.74 129.42 L28.33 125.67 L27.93 124.33 L27.53 124.85 L27.12 124.14Z M34.4 127.4 L34.8 127.88 L35.2 127.45 L35.6 128.53 L36 127.37 L36.4 125.07 L36.8 125.22 L37.2 123.57 L37.6 122.77 L38 119.37 L38.4 118.56 L38.8 116.18 L39.2 117.63 L39.6 116.68 L40 114.87 L40.4 113.67 L40.8 112.39 L41.2 114.54 L41.6 112.67 L42 112.21 L42.4 112.34 L42.8 110.68 L43.2 110.13 L43.6 109.8 L44 109.1 L44.4 108.32 L44.8 108.27 L45.2 108.5 L45.6 106.92 L46 107.81 L46.4 107.08 L46.8 107.08 L47.2 106.95 L47.6 105.38 L48 105.85 L48.4 106.22 L48.8 105.21 L49.2 105.01 L49.6 105.76 L50 105.7 L50.4 105.3 L50.8 105.93 L51.2 106.21 L51.6 106.03 L52 106.82 L52.4 107.24 L52.8 107.35 L53.2 108.16 L53.6 108.39 L54 106.83 L54.4 109.77 L54.8 110.14 L55.2 110.03 L55.6 111.9 L56 111.81 L56.4 112.83 L56.8 112.43 L57.2 113.27 L57.6 111.95 L58 114.97 L58.4 116.03 L58.8 115.58 L59.2 117.51 L59.6 116.17 L60 119.84 L60.4 120.52 L60.8 121.45 L61.2 123.7 L61.6 124.25 L62 125.94 L62.4 127.17 L62.8 128.34 L63.2 128.57 L63.6 128.02 L64 127.11 L64 144.59 L63.6 145.24 L63.2 143.95 L62.8 144.03 L62.4 144.71 L62 141.06 L61.6 140.86 L61.2 137.36 L60.8 135.52 L60.4 135.68 L60 132.97 L59.6 132.01 L59.2 130.77 L58.8 128.11 L58.4 126.96 L58 126.21 L57.6 124.84 L57.2 124.92 L56.8 122.86 L56.4 121.41 L56 121.02 L55.6 120.96 L55.2 120.36 L54.8 118.32 L54.4 118.84 L54 119.49 L53.6 117.71 L53.2 117.07 L52.8 116.05 L52.4 115.58 L52 115.61 L51.6 114.52 L51.2 116.54 L50.8 114.75 L50.4 113.42 L50 115.81 L49.6 114.67 L49.2 114.66 L48.8 114.16 L48.4 113.63 L48 114.91 L47.6 113.61 L47.2 114.86 L46.8 115.37 L46.4 114.67 L46 115.4 L45.6 116.46 L45.2 116.92 L44.8 119.23 L44.4 117.77 L44 117.76 L43.6 119.59 L43.2 119.25 L42.8 121.5 L42.4 121.76 L42 121.73 L41.6 123.57 L41.2 124.46 L40.8 125.28 L40.4 125.8 L40 126.86 L39.6 129.32 L39.2 129.67 L38.8 131.22 L38.4 132.63 L38 134.61 L37.6 136.47 L37.2 136.98 L36.8 139.83 L36.4 141.43 L36 144.18 L35.6 143.64 L35.2 144.06 L34.8 144.81 L34.4 145.7Z M64 127.14 L64.4 127.45 L64.81 127.25 L65.21 128.56 L65.61 125.81 L66.01 125.83 L66.42 122.77 L66.82 122.83 L67.22 122.39 L67.62 120.81 L68.03 120.31 L68.43 119.31 L68.83 118.21 L69.24 117.79 L69.64 115.51 L70.04 114.92 L70.44 114.94 L70.85 114.35 L71.25 112.5 L71.65 112.83 L72.05 111.76 L72.46 111.53 L72.86 110.08 L73.26 109.1 L73.66 109.62 L74.07 106.39 L74.47 107.37 L74.87 108.59 L75.28 108.14 L75.68 107.09 L76.08 106.73 L76.48 106.06 L76.89 106.1 L77.29 103.55 L77.69 105.2 L78.09 105.36 L78.5 105.77 L78.9 104.88 L79.3 106.32 L79.71 105.2 L80.11 106.31 L80.51 103.95 L80.91 106.58 L81.32 105.83 L81.72 107.1 L82.12 106.73 L82.52 106.89 L82.93 107.39 L83.33 106.21 L83.73 108.4 L84.14 109.17 L84.54 109.62 L84.94 109.88 L85.34 110.65 L85.75 111.68 L86.15 111.7 L86.55 111.56 L86.95 114.47 L87.36 114.11 L87.76 116.26 L88.16 114.15 L88.56 117.94 L88.97 117.78 L89.37 119.15 L89.77 120.24 L90.18 121.82 L90.58 121.72 L90.98 122.95 L91.38 124.34 L91.79 125.38 L92.19 127.98 L92.59 127.81 L92.99 128.31 L93.4 127.47 L93.8 127.36 L93.8 144.07 L93.4 144.92 L92.99 143.77 L92.59 143.73 L92.19 143.58 L91.79 140.75 L91.38 139.09 L90.98 136.89 L90.58 135.55 L90.18 134.59 L89.77 132.07 L89.37 131.54 L88.97 131.37 L88.56 128.97 L88.16 127.58 L87.76 126.67 L87.36 124.64 L86.95 124.7 L86.55 123.26 L86.15 121.41 L85.75 121.99 L85.34 120.05 L84.94 119.63 L84.54 118.19 L84.14 118.06 L83.73 117.68 L83.33 117.86 L82.93 117.11 L82.52 115.52 L82.12 115.66 L81.72 115.96 L81.32 114.83 L80.91 117.23 L80.51 114.74 L80.11 114.43 L79.71 113.89 L79.3 113.62 L78.9 113.36 L78.5 113.8 L78.09 113.89 L77.69 114.9 L77.29 114.93 L76.89 114.29 L76.48 114.85 L76.08 115.81 L75.68 116.29 L75.28 115.53 L74.87 116.38 L74.47 117.69 L74.07 117.52 L73.66 118.48 L73.26 118.18 L72.86 120.01 L72.46 121.83 L72.05 121.07 L71.65 121.69 L71.25 124.89 L70.85 124.13 L70.44 127.68 L70.04 126.85 L69.64 127.07 L69.24 128.87 L68.83 130.05 L68.43 131.79 L68.03 132.12 L67.62 135.14 L67.22 136.3 L66.82 137.79 L66.42 139.32 L66.01 142.42 L65.61 143.83 L65.21 144.28 L64.81 144.11 L64.4 143.79 L64 144.75Z M93.8 127.23 L94.2 125.64 L94.61 128.41 L95.01 127.53 L95.41 126.93 L95.81 124.13 L96.22 125.19 L96.62 123.03 L97.02 121.42 L97.42 120.6 L97.83 119.52 L98.23 118.72 L98.63 117.81 L99.04 117.62 L99.44 117.06 L99.84 115.51 L100.24 114.34 L100.65 113.44 L101.05 113.63 L101.45 110.95 L101.85 109.54 L102.26 111.88 L102.66 109.81 L103.06 109.79 L103.46 109.59 L103.87 108.18 L104.27 108.09 L104.67 107.43 L105.08 107.15 L105.48 106.62 L105.88 106.08 L106.28 107.09 L106.69 106.93 L107.09 106.56 L107.49 106.52 L107.89 105.24 L108.3 105.23 L108.7 104.82 L109.1 105.32 L109.51 105 L109.91 106.03 L110.31 105.83 L110.71 105.88 L111.12 107.01 L111.52 104.73 L111.92 107.57 L112.32 106.89 L112.73 108.5 L113.13 108.3 L113.53 109.47 L113.94 110.06 L114.34 108.25 L114.74 111.12 L115.14 111.56 L115.55 112.3 L115.95 112.5 L116.35 111.71 L116.75 111.31 L117.16 114.94 L117.56 115.43 L117.96 115.63 L118.36 117.69 L118.77 118.13 L119.17 118.45 L119.57 119.41 L119.98 120.37 L120.38 121.56 L120.78 123.76 L121.18 125.2 L121.59 126.51 L121.99 127.14 L122.39 127.23 L122.79 127.42 L123.2 127.26 L123.6 125.47 L123.6 144.66 L123.2 144.9 L122.79 145.48 L122.39 144.2 L121.99 144.7 L121.59 140.8 L121.18 140.15 L120.78 137.17 L120.38 136.53 L119.98 134.37 L119.57 133.22 L119.17 133.27 L118.77 129.41 L118.36 129.19 L117.96 127.69 L117.56 126.57 L117.16 124.88 L116.75 124.67 L116.35 123.75 L115.95 121.98 L115.55 120.76 L115.14 119.97 L114.74 119.82 L114.34 118.86 L113.94 117.72 L113.53 116.94 L113.13 116.42 L112.73 115.81 L112.32 115.21 L111.92 115.42 L111.52 114.72 L111.12 115.67 L110.71 114.71 L110.31 114.04 L109.91 113.56 L109.51 113.46 L109.1 113.55 L108.7 113.72 L108.3 114.18 L107.89 113.89 L107.49 113.59 L107.09 114.3 L106.69 114.74 L106.28 115.42 L105.88 115.16 L105.48 116.06 L105.08 115.82 L104.67 115.91 L104.27 117.37 L103.87 118.12 L103.46 118.6 L103.06 118.46 L102.66 118.98 L102.26 121.03 L101.85 120.57 L101.45 122.61 L101.05 123.29 L100.65 124.61 L100.24 125.08 L99.84 127.05 L99.44 129.06 L99.04 130.58 L98.63 130.78 L98.23 131.81 L97.83 135.66 L97.42 135.76 L97.02 135.92 L96.62 138.17 L96.22 138.88 L95.81 140.97 L95.41 144.33 L95.01 143.7 L94.61 144.57 L94.2 143.48 L93.8 144.03Z M123.6 127.58 L124 128.41 L124.41 127.63 L124.81 127.92 L125.21 124.93 L125.61 126.02 L126.02 122.9 L126.42 123.1 L126.82 120.63 L127.22 120.38 L127.63 120.13 L128.03 118.42 L128.43 117.41 L128.84 115.02 L129.24 116.02 L129.64 115.79 L130.04 112.27 L130.45 114.5 L130.85 113.05 L131.25 109.66 L131.65 111.95 L132.06 110.88 L132.46 108.17 L132.86 110.02 L133.27 109.23 L133.67 108.25 L134.07 108.75 L134.47 108.08 L134.88 107.89 L135.28 107.13 L135.68 106.55 L136.08 106.22 L136.49 103.26 L136.89 105.14 L137.29 103.14 L137.7 104.08 L138.1 106.11 L138.5 104.96 L138.9 106.21 L139.31 104.81 L139.71 105.42 L140.11 105.74 L140.52 107.06 L140.92 105.85 L141.32 106.67 L141.72 107.86 L142.13 106.89 L142.53 107.34 L142.93 108.12 L143.33 108.76 L143.74 108.07 L144.14 110.62 L144.54 110.78 L144.95 110.84 L145.35 112.31 L145.75 112.97 L146.15 114.03 L146.56 115.14 L146.96 115.31 L147.36 116.2 L147.76 116.83 L148.17 117.51 L148.57 118.46 L148.97 120.35 L149.38 121.78 L149.78 120.28 L150.18 122.46 L150.58 124.43 L150.99 125.96 L151.39 127.57 L151.79 127.37 L152.19 128.12 L152.6 127.73 L153 128.25 L153 144.54 L152.6 145.53 L152.19 144.76 L151.79 144.56 L151.39 144.18 L150.99 141.31 L150.58 139.63 L150.18 137.41 L149.78 136.08 L149.38 134.71 L148.97 133.65 L148.57 130.98 L148.17 129.47 L147.76 128.89 L147.36 127.93 L146.96 126.56 L146.56 125.25 L146.15 123.68 L145.75 122.96 L145.35 121.76 L144.95 120.58 L144.54 122.37 L144.14 119.87 L143.74 120.86 L143.33 118.71 L142.93 117.37 L142.53 116.79 L142.13 115.81 L141.72 115.17 L141.32 115.75 L140.92 114.92 L140.52 114.76 L140.11 114.85 L139.71 115.4 L139.31 113.81 L138.9 114.55 L138.5 115.77 L138.1 116.82 L137.7 114.43 L137.29 113.4 L136.89 113.67 L136.49 114.7 L136.08 115.12 L135.68 115.6 L135.28 115.73 L134.88 115.55 L134.47 117 L134.07 116.03 L133.67 117.6 L133.27 117.9 L132.86 119.23 L132.46 118.99 L132.06 120.59 L131.65 120.26 L131.25 121.63 L130.85 123.13 L130.45 123.35 L130.04 126.4 L129.64 127.52 L129.24 127.54 L128.84 128.19 L128.43 130.1 L128.03 131.96 L127.63 132.24 L127.22 134.01 L126.82 136.1 L126.42 137.59 L126.02 138.62 L125.61 142.24 L125.21 144.45 L124.81 143.98 L124.41 144.68 L124 143.57 L123.6 144.8Z M153 127.68 L153.41 128.08 L153.81 128.25 L154.22 127.06 L154.62 126.44 L155.03 126.11 L155.43 124.43 L155.84 123.47 L156.24 121.41 L156.65 120.2 L157.05 119.73 L157.46 119.69 L157.87 117.87 L158.27 117.62 L158.68 115.81 L159.08 115.91 L159.49 114.65 L159.89 114.35 L160.3 110.82 L160.7 111.89 L161.11 111.81 L161.52 111.5 L161.92 110.75 L162.33 108.93 L162.73 108.74 L163.14 109.06 L163.54 108.6 L163.95 108.14 L164.35 107.82 L164.76 107.3 L165.16 106.22 L165.57 105.61 L165.98 106.08 L166.38 105.84 L166.79 105.55 L167.19 105.87 L167.6 106.3 L168 103.5 L168.41 105.4 L168.81 105.79 L169.22 105.77 L169.62 106.61 L170.03 106.33 L170.44 106.33 L170.84 105.05 L171.25 107.35 L171.65 108.36 L172.06 108.79 L172.46 108.93 L172.87 109.41 L173.27 108.96 L173.68 110.09 L174.08 110.54 L174.49 111.48 L174.9 111.56 L175.3 112.11 L175.71 114.48 L176.11 113.94 L176.52 114.62 L176.92 116.99 L177.33 116.36 L177.73 117.54 L178.14 117.61 L178.55 119.9 L178.95 119.35 L179.36 121.38 L179.76 122.2 L180.17 124.29 L180.57 125.54 L180.98 127.41 L181.38 125.45 L181.79 128.32 L182.19 128.33 L182.6 128.42 L182.6 144 L182.19 144.36 L181.79 143.93 L181.38 143.87 L180.98 144.41 L180.57 141.64 L180.17 139.66 L179.76 137.51 L179.36 135.52 L178.95 133.42 L178.55 133.37 L178.14 131.6 L177.73 129.13 L177.33 128.89 L176.92 126.63 L176.52 125.31 L176.11 125.2 L175.71 124.67 L175.3 122.81 L174.9 121.33 L174.49 123.12 L174.08 119.88 L173.68 119.92 L173.27 119.11 L172.87 119.2 L172.46 117.53 L172.06 116.98 L171.65 116.46 L171.25 116.39 L170.84 115.87 L170.44 114.77 L170.03 115.52 L169.62 114.35 L169.22 114.39 L168.81 114.59 L168.41 114.63 L168 114.64 L167.6 113.73 L167.19 113.3 L166.79 115.98 L166.38 114.4 L165.98 116.83 L165.57 114.7 L165.16 114.63 L164.76 115.32 L164.35 115.34 L163.95 116.56 L163.54 116.27 L163.14 117.13 L162.73 117.36 L162.33 117.89 L161.92 118.83 L161.52 119.49 L161.11 121.29 L160.7 121.62 L160.3 122.39 L159.89 123.53 L159.49 124.37 L159.08 126.61 L158.68 128.03 L158.27 128.75 L157.87 129.39 L157.46 131.27 L157.05 132.3 L156.65 134.08 L156.24 135.59 L155.84 137.36 L155.43 139.23 L155.03 141.43 L154.62 143.99 L154.22 144.27 L153.81 144.02 L153.41 144.89 L153 144.13Z M182.6 128.43 L183 127.68 L183.41 127.07 L183.81 127.92 L184.22 127.93 L184.62 126.25 L185.02 123.98 L185.43 122.72 L185.83 122 L186.24 120.57 L186.64 120.01 L187.05 118.5 L187.45 118.15 L187.85 116.41 L188.26 116.72 L188.66 112.95 L189.07 114.56 L189.47 113.67 L189.87 112.47 L190.28 111.63 L190.68 111.53 L191.09 110.77 L191.49 110.41 L191.89 109.53 L192.3 108.55 L192.7 109.27 L193.11 108.47 L193.51 108.1 L193.92 105.94 L194.32 106.32 L194.72 103.95 L195.13 105.58 L195.53 106.67 L195.94 105.25 L196.34 105.67 L196.74 105.86 L197.15 105.69 L197.55 105.46 L197.96 105.39 L198.36 106.4 L198.76 106.16 L199.17 105.7 L199.57 105.68 L199.98 105.89 L200.38 106.14 L200.78 106.49 L201.19 107.59 L201.59 107.56 L202 106.22 L202.4 108.78 L202.81 110.2 L203.21 107.94 L203.61 111.48 L204.02 111.56 L204.42 112.83 L204.83 113.18 L205.23 113.82 L205.63 115.17 L206.04 115.81 L206.44 116.25 L206.85 116.37 L207.25 117.41 L207.65 117.41 L208.06 117.71 L208.46 120.27 L208.87 121.71 L209.27 123.34 L209.68 124.8 L210.08 125.6 L210.48 127.47 L210.89 127.38 L211.29 128.29 L211.7 127.09 L212.1 127.4 L212.1 144.08 L211.7 144.23 L211.29 144.86 L210.89 143.94 L210.48 144.71 L210.08 141.31 L209.68 138.86 L209.27 138.13 L208.87 135.23 L208.46 133.62 L208.06 133.02 L207.65 130.76 L207.25 130.61 L206.85 129.3 L206.44 127.32 L206.04 125.41 L205.63 124.7 L205.23 123.3 L204.83 122.11 L204.42 121.73 L204.02 121.64 L203.61 123.15 L203.21 119.77 L202.81 120.91 L202.4 117.53 L202 116.7 L201.59 116.29 L201.19 116.95 L200.78 116.36 L200.38 115.91 L199.98 115.42 L199.57 115.44 L199.17 114.03 L198.76 113.84 L198.36 115.88 L197.96 113.52 L197.55 113.46 L197.15 113.44 L196.74 115.55 L196.34 113.9 L195.94 114.99 L195.53 115.13 L195.13 115.44 L194.72 115.34 L194.32 115.39 L193.92 116.24 L193.51 116.99 L193.11 118.26 L192.7 120.2 L192.3 117.55 L191.89 118.59 L191.49 119.64 L191.09 119.59 L190.68 123.66 L190.28 121.22 L189.87 122.51 L189.47 124.63 L189.07 125.09 L188.66 125.34 L188.26 126.75 L187.85 131.3 L187.45 129.71 L187.05 130.73 L186.64 132.66 L186.24 134.35 L185.83 135.18 L185.43 137.16 L185.02 139.57 L184.62 140.96 L184.22 146.5 L183.81 143.84 L183.41 144.73 L183 144.34 L182.6 146.09Z M212.1 127.85 L212.5 127.03 L212.9 128.5 L213.3 128.42 L213.71 128.01 L214.11 125.99 L214.51 125.12 L214.91 122.56 L215.31 121.65 L215.71 120.34 L216.11 117.74 L216.52 119.09 L216.92 118.29 L217.32 116.98 L217.72 116.16 L218.12 115.85 L218.52 114.1 L218.92 113.1 L219.32 112.18 L219.73 111.52 L220.13 110.89 L220.53 110.96 L220.93 110.52 L221.33 110 L221.73 109.58 L222.13 108.46 L222.54 108.44 L222.94 107.47 L223.34 106.97 L223.74 107.25 L224.14 105.97 L224.54 106.34 L224.94 106.54 L225.35 104.63 L225.75 105.7 L226.15 106.42 L226.55 105.42 L226.95 106.34 L227.35 105.54 L227.75 106.57 L228.16 106.79 L228.56 105.69 L228.96 106.5 L229.36 107.3 L229.76 106.59 L230.16 107.04 L230.56 107.75 L230.97 108.92 L231.37 109.53 L231.77 109.54 L232.17 110.19 L232.57 110.17 L232.97 110.91 L233.37 110.48 L233.78 113.22 L234.18 113 L234.58 112.03 L234.98 116.01 L235.38 115.41 L235.78 117.67 L236.18 118.69 L236.58 118.73 L236.99 120.5 L237.39 120.41 L237.79 119.88 L238.19 123.01 L238.59 124.16 L238.99 125.37 L239.39 125.77 L239.8 127.2 L240.2 127.25 L240.6 128.53 L241 127.36 L241 144.12 L240.6 143.73 L240.2 143.96 L239.8 144.11 L239.39 144.45 L238.99 140.71 L238.59 138.98 L238.19 136.82 L237.79 135.87 L237.39 133.91 L236.99 132.56 L236.58 131.47 L236.18 129.72 L235.78 128.9 L235.38 127.82 L234.98 125.84 L234.58 124.61 L234.18 124.36 L233.78 122.47 L233.37 121.04 L232.97 120.87 L232.57 120.6 L232.17 120 L231.77 118.56 L231.37 117.94 L230.97 118.33 L230.56 119.03 L230.16 115.61 L229.76 115.33 L229.36 116.06 L228.96 114.31 L228.56 114.35 L228.16 114.16 L227.75 114.21 L227.35 114.2 L226.95 115.87 L226.55 113.77 L226.15 114.05 L225.75 114.77 L225.35 114.89 L224.94 114.95 L224.54 113.99 L224.14 114.62 L223.74 115.83 L223.34 115.76 L222.94 116.05 L222.54 117.22 L222.13 117.93 L221.73 117.01 L221.33 118.81 L220.93 119.6 L220.53 120.55 L220.13 120.58 L219.73 121.3 L219.32 122.52 L218.92 123.02 L218.52 125.58 L218.12 125.51 L217.72 128.47 L217.32 128.09 L216.92 129.66 L216.52 131.23 L216.11 132.18 L215.71 133.55 L215.31 135.72 L214.91 137.66 L214.51 139.04 L214.11 141.06 L213.71 143.76 L213.3 143.45 L212.9 144.41 L212.5 143.62 L212.1 143.51Z M241 127.42 L241.4 127.39 L241.8 127.2 L242.2 128.23 L242.6 126.23 L243 123.75 L243.4 123.07 L243.8 122.74 L244.2 122.89 L244.6 118.58 L245 119.95 L245.4 118.83 L245.8 117.79 L246.2 116.5 L246.6 114.76 L247 115.19 L247.4 114.5 L247.8 113.32 L248.2 112.63 L248.6 112.02 L249 112.34 L249.4 111.68 L249.8 110.53 L250.2 110.58 L250.6 109.37 L251 109.37 L251.4 108.08 L251.8 106.53 L252.2 107.1 L252.6 107.46 L253 106.76 L253.4 107.16 L253.8 106.78 L254.2 106.32 L254.6 106.41 L255 105.27 L255.4 104.49 L255.8 104.37 L256.2 106.01 L256.6 105.75 L257 102.87 L257.4 106.08 L257.8 103.49 L258.2 105.95 L258.6 107.22 L259 107.23 L259.4 106.9 L259.8 106.25 L260.2 108.51 L260.6 108.45 L261 109.08 L261.4 108.33 L261.8 107.29 L262.2 111.11 L262.6 111.3 L263 112.21 L263.4 112.31 L263.8 112.87 L264.2 114.87 L264.6 115.63 L265 115.88 L265.4 116.51 L265.8 118.02 L266.2 118.22 L266.6 119.36 L267 120.02 L267.4 121.26 L267.8 121.59 L268.2 123.43 L268.6 124.68 L269 126.46 L269.4 127.18 L269.8 127.63 L270.2 128.24 L270.6 127.6 L271 127.48 L271 144.53 L270.6 143.42 L270.2 144.97 L269.8 143.67 L269.4 147.23 L269 141.67 L268.6 140.57 L268.2 139.11 L267.8 136.15 L267.4 133.89 L267 132.4 L266.6 131.45 L266.2 129.57 L265.8 128.18 L265.4 127.94 L265 126.2 L264.6 127.62 L264.2 125 L263.8 122.68 L263.4 122.29 L263 122.01 L262.6 120.51 L262.2 119.72 L261.8 119.46 L261.4 119.16 L261 117.1 L260.6 117.18 L260.2 116.97 L259.8 115.74 L259.4 115.51 L259 115.06 L258.6 114.47 L258.2 114.21 L257.8 113.9 L257.4 114.98 L257 114.21 L256.6 113.43 L256.2 113.34 L255.8 113.47 L255.4 113.97 L255 113.44 L254.6 113.67 L254.2 114.63 L253.8 114.79 L253.4 114.43 L253 116.03 L252.6 115.3 L252.2 115.85 L251.8 116.24 L251.4 117.25 L251 117.04 L250.6 118.43 L250.2 121.35 L249.8 120.53 L249.4 123.58 L249 120.82 L248.6 122.85 L248.2 125.27 L247.8 124.88 L247.4 125.31 L247 127.07 L246.6 127.51 L246.2 128.2 L245.8 129.61 L245.4 132.14 L245 132.87 L244.6 134.16 L244.2 136.54 L243.8 138.12 L243.4 139.26 L243 141.85 L242.6 144.02 L242.2 144.02 L241.8 144.22 L241.4 144.37 L241 144.84Z M271 127.99 L271.4 128.39 L271.81 128.22 L272.21 127.6 L272.61 125.12 L273.01 125.15 L273.42 123.89 L273.82 120.33 L274.22 122.09 L274.62 120.36 L275.03 118.87 L275.43 118.9 L275.83 118.45 L276.24 116.47 L276.64 116.31 L277.04 114.64 L277.44 114.39 L277.85 112.85 L278.25 113.65 L278.65 111.77 L279.06 111.54 L279.46 110.02 L279.86 110.57 L280.26 109.19 L280.67 109.27 L281.07 108.47 L281.47 107.83 L281.88 108.32 L282.28 106.72 L282.68 106.71 L283.08 105.95 L283.49 106.58 L283.89 105.4 L284.29 106.6 L284.69 106.29 L285.1 104.02 L285.5 105.93 L285.9 105.79 L286.31 106.07 L286.71 106.42 L287.11 106.05 L287.51 105.75 L287.92 106.33 L288.32 106.06 L288.72 107.3 L289.12 105.72 L289.53 107.71 L289.93 108.89 L290.33 109.04 L290.74 109.7 L291.14 110.47 L291.54 111.2 L291.94 111.47 L292.35 112.39 L292.75 111.39 L293.15 112.94 L293.56 115.14 L293.96 115.65 L294.36 115.72 L294.76 116.77 L295.17 118.59 L295.57 116.9 L295.97 120.56 L296.38 120.53 L296.78 121.53 L297.18 123.94 L297.58 124.97 L297.99 126.29 L298.39 128.3 L298.79 127.72 L299.19 128.41 L299.6 127.29 L300 127.04 L300 145.95 L299.6 144.78 L299.19 143.98 L298.79 144.33 L298.39 143.52 L297.99 141.08 L297.58 139.95 L297.18 137.04 L296.78 136.17 L296.38 133.74 L295.97 133.28 L295.57 131.69 L295.17 131.05 L294.76 128.86 L294.36 127.89 L293.96 128.76 L293.56 124.57 L293.15 123.71 L292.75 123.1 L292.35 122.17 L291.94 123.25 L291.54 120.75 L291.14 119.62 L290.74 118.2 L290.33 117.94 L289.93 116.53 L289.53 115.97 L289.12 116.9 L288.72 117.67 L288.32 115.47 L287.92 116.84 L287.51 114.37 L287.11 115.01 L286.71 113.98 L286.31 117.06 L285.9 114.61 L285.5 113.55 L285.1 113.64 L284.69 113.41 L284.29 114 L283.89 114.54 L283.49 114.73 L283.08 114.24 L282.68 115.19 L282.28 117.73 L281.88 116.09 L281.47 115.92 L281.07 117.4 L280.67 117.49 L280.26 118.95 L279.86 119.42 L279.46 120.09 L279.06 120.88 L278.65 121.37 L278.25 121.96 L277.85 125.52 L277.44 124.91 L277.04 126.07 L276.64 126.44 L276.24 128.93 L275.83 130 L275.43 132.97 L275.03 133.29 L274.62 134.72 L274.22 135.42 L273.82 136.72 L273.42 139.27 L273.01 142.11 L272.61 144.22 L272.21 144.58 L271.81 144.49 L271.4 143.67 L271 144.8Z M300 125.99 L300.4 127.14 L300.81 127.06 L301.21 128.1 L301.62 125.03 L302.02 126.38 L302.43 124.29 L302.83 122.04 L303.24 122.73 L303.64 121.61 L304.04 117.83 L304.45 117.05 L304.85 118.12 L305.26 117.73 L305.66 116.12 L306.07 115.26 L306.47 115.26 L306.87 111.11 L307.28 113.68 L307.68 112.53 L308.09 110.8 L308.49 111.08 L308.9 110.69 L309.3 109.75 L309.71 109.35 L310.11 108.24 L310.51 108.17 L310.92 108.37 L311.32 107.78 L311.73 106.86 L312.13 107.18 L312.54 106.83 L312.94 105.45 L313.34 105.82 L313.75 106.06 L314.15 106.07 L314.56 105.64 L314.96 105.42 L315.37 104.95 L315.77 105.47 L316.18 106.47 L316.58 104.61 L316.98 106.66 L317.39 107.09 L317.79 107.6 L318.2 107.08 L318.6 107.5 L319.01 108.55 L319.41 108.56 L319.81 109.77 L320.22 110.22 L320.62 109.57 L321.03 111.37 L321.43 110.96 L321.84 111.59 L322.24 112.32 L322.65 114.59 L323.05 111.83 L323.45 115.02 L323.86 116.34 L324.26 117.72 L324.67 117.57 L325.07 118.94 L325.48 120.46 L325.88 120.27 L326.28 122.16 L326.69 122.86 L327.09 124.33 L327.5 125.07 L327.9 126.94 L328.31 127.9 L328.71 128.08 L329.12 127.23 L329.52 128.25 L329.52 144.92 L329.12 146.01 L328.71 143.87 L328.31 144.68 L327.9 144.15 L327.5 143.62 L327.09 140.09 L326.69 137.88 L326.28 135.55 L325.88 133.92 L325.48 132.21 L325.07 131.22 L324.67 129.15 L324.26 129.03 L323.86 128.77 L323.45 125.81 L323.05 125.01 L322.65 124.42 L322.24 123.2 L321.84 122.23 L321.43 120.38 L321.03 121.81 L320.62 119.7 L320.22 118.95 L319.81 117.9 L319.41 117.92 L319.01 116.04 L318.6 116.33 L318.2 118.22 L317.79 114.92 L317.39 114.82 L316.98 114.43 L316.58 114.3 L316.18 113.83 L315.77 115.7 L315.37 113.54 L314.96 113.23 L314.56 113.59 L314.15 113.5 L313.75 114.07 L313.34 113.64 L312.94 114.27 L312.54 114.15 L312.13 114.33 L311.73 115.64 L311.32 115.41 L310.92 116.33 L310.51 116.77 L310.11 118.03 L309.71 118.07 L309.3 118.86 L308.9 119.22 L308.49 120.99 L308.09 121.44 L307.68 122.02 L307.28 122.18 L306.87 123.43 L306.47 124.59 L306.07 127.45 L305.66 128.05 L305.26 128.9 L304.85 129.94 L304.45 131.02 L304.04 132 L303.64 134.59 L303.24 135.59 L302.83 137.55 L302.43 138.88 L302.02 140.82 L301.62 143.36 L301.21 143.46 L300.81 144.97 L300.4 143.94 L300 144.58Z" fill="#000"/>
<path d="M29.6 128 L39.2 128 L37.3 145 L36.5 160 L35.9 170 L32.6 170 L31.9 160 L31.3 145 Z M59.2 128 L68.8 128 L66.9 145 L66.1 160 L65.5 172 L62.2 172 L61.5 160 L60.9 145 Z M89 128 L98.6 128 L96.7 145 L95.9 160 L95.3 169 L92 169 L91.3 160 L90.7 145 Z M118.8 128 L128.4 128 L126.5 145 L125.7 160 L125.1 168 L121.8 168 L121.1 160 L120.5 145 Z M148.2 128 L157.8 128 L155.9 145 L155.1 160 L154.5 166 L151.2 166 L150.5 160 L149.9 145 Z M177.8 128 L187.4 128 L185.5 145 L184.7 160 L184.1 162 L180.8 162 L180.1 160 L179.5 145 Z M207.3 128 L216.9 128 L215 145 L214.2 160 L213.6 158 L210.3 158 L209.6 160 L209 145 Z M236.2 128 L245.8 128 L243.9 145 L243.1 160 L242.5 160 L239.2 160 L238.5 160 L237.9 145 Z M266.2 128 L275.8 128 L273.9 145 L273.1 160 L272.5 173 L269.2 173 L268.5 160 L267.9 145 Z M295.2 128 L304.8 128 L302.9 145 L302.1 160 L301.5 164 L298.2 164 L297.5 160 L296.9 145 Z M324.72 128 L334.32 128 L332.42 145 L331.62 160 L331.02 162 L327.72 162 L327.02 160 L326.42 145 Z" fill="#000"/>
<path d="M32.8 87.4 V202.5 M36 78.3 V177.5 M62.4 97 V205.1 M65.6 73.4 V183 M92.2 90.7 V204 M95.4 73.4 V183 M122 93.3 V203.5 M125.2 72.7 V177.5 M151.4 85.8 V203.5 M154.6 75 V171 M181 100 V206.6 M184.2 74.4 V173.6 M210.5 88 V207.3 M213.7 75.6 V174.8 M239.4 92.6 V207.8 M242.6 76.3 V174.8 M269.4 86.4 V206.6 M272.6 73.2 V180.7 M298.4 103.5 V205.4 M301.6 75.6 V176" fill="none" stroke="#1a1a1a" stroke-width="1.7"/>
</g>
<clipPath id="cr"><rect x="373.8" y="16" width="296.6" height="209.5"/></clipPath><g clip-path="url(#cr)">
<path d="M373.5 113.52 L373.9 114.57 L374.3 113.46 L374.7 113.27 L375.1 113.26 L375.5 112.98 L375.9 114.21 L376.3 111.69 L376.7 115.29 L377.1 113.74 L377.5 113.12 L377.9 112.79 L378.3 114.93 L378.71 115.22 L379.11 113.02 L379.51 114.68 L379.91 111.24 L380.31 112.56 L380.71 113.22 L381.11 114.49 L381.51 113.7 L381.91 113.26 L382.31 114.19 L382.71 114.19 L383.11 112.51 L383.51 111.69 L383.91 114.8 L384.31 114.7 L384.71 114.14 L385.11 113.46 L385.51 113.05 L385.91 113 L386.31 113.72 L386.71 112.93 L387.11 113.11 L387.51 111.97 L387.91 113.69 L388.31 114.05 L388.72 114.7 L389.12 112.85 L389.52 113.29 L389.92 113.22 L390.32 114.69 L390.72 113.94 L391.12 113.62 L391.52 113.18 L391.92 114.91 L392.32 113.47 L392.72 114.6 L393.12 114.54 L393.52 113.11 L393.92 114.33 L394.32 112.94 L394.72 114.35 L395.12 113.75 L395.52 113.11 L395.92 112.46 L396.32 113.34 L396.72 113.44 L397.12 113.85 L397.52 115.27 L397.92 114.17 L398.33 113.99 L398.73 113.14 L399.13 113.8 L399.53 113.08 L399.93 113.77 L400.33 114.15 L400.73 111.52 L401.13 114.24 L401.53 113.16 L401.93 115.04 L402.33 113.01 L402.73 113.57 L403.13 113.91 L403.53 114.52 L403.93 114.56 L404.33 114.88 L404.73 115.01 L405.13 113.65 L405.53 115.22 L405.93 115.16 L406.33 113.16 L406.73 115.21 L407.13 113.98 L407.53 113.66 L407.93 114.24 L408.34 113.77 L408.74 114.41 L409.14 114.26 L409.54 113.48 L409.94 114.53 L410.34 114.45 L410.74 114.76 L411.14 113.72 L411.54 113.35 L411.94 113 L412.34 114.11 L412.74 113.87 L413.14 112.79 L413.54 114.1 L413.94 114.87 L414.34 114.59 L414.74 114.88 L415.14 113.13 L415.54 111.51 L415.94 111.5 L416.34 111.99 L416.74 114.41 L417.14 113.42 L417.54 112.67 L417.94 113.92 L418.35 114.3 L418.75 113.44 L419.15 115.21 L419.55 113.22 L419.95 113.99 L420.35 113.58 L420.75 113.95 L421.15 113.54 L421.55 114.69 L421.95 114.63 L422.35 114.63 L422.75 113.29 L423.15 113.01 L423.55 113.67 L423.95 114.03 L424.35 112.88 L424.75 114.12 L425.15 114.6 L425.55 114.66 L425.95 113.22 L426.35 113.81 L426.75 114.01 L427.15 113.07 L427.55 114.06 L427.95 113.19 L428.36 114 L428.76 113.96 L429.16 113.86 L429.56 114.46 L429.96 114.34 L430.36 113.45 L430.76 113.28 L431.16 113.46 L431.56 113.42 L431.96 114.07 L432.36 113.13 L432.76 114.81 L433.16 112.73 L433.56 114.83 L433.96 112.95 L434.36 113.8 L434.76 112.81 L435.16 113.85 L435.56 113.66 L435.96 114.84 L436.36 114.62 L436.76 113.45 L437.16 114.2 L437.56 114.21 L437.97 114.64 L438.37 112.79 L438.77 114.81 L439.17 114.38 L439.57 113.45 L439.97 114.22 L440.37 115.02 L440.77 113.61 L441.17 114.81 L441.57 114.72 L441.97 113.32 L442.37 114.87 L442.77 113.82 L443.17 112.85 L443.57 114.67 L443.97 114.85 L444.37 114.12 L444.77 113.06 L445.17 113.05 L445.57 113.98 L445.97 111 L446.37 113.56 L446.77 112.75 L447.17 114 L447.57 110.9 L447.98 114.36 L448.38 112.32 L448.78 113.69 L449.18 114.62 L449.58 110.51 L449.98 110.92 L450.38 111.73 L450.78 112.89 L451.18 112.66 L451.58 113.72 L451.98 112.52 L452.38 112.15 L452.78 111.6 L453.18 113.27 L453.58 113.92 L453.98 114.19 L454.38 112.7 L454.78 112.31 L455.18 113.87 L455.58 112.6 L455.98 111.28 L456.38 112.16 L456.78 112.66 L457.18 112.45 L457.58 114.16 L457.99 112.65 L458.39 110.91 L458.79 113.53 L459.19 112.17 L459.59 113.38 L459.99 113.66 L460.39 114.59 L460.79 112.98 L461.19 112.29 L461.59 112.26 L461.99 112.27 L462.39 112.67 L462.79 114.46 L463.19 113.77 L463.59 113.99 L463.99 112.32 L464.39 113.16 L464.79 113.51 L465.19 112.74 L465.59 113.98 L465.99 113.07 L466.39 113.08 L466.79 113.56 L467.19 114.22 L467.59 112.78 L468 114.35 L468.4 113.4 L468.8 113.86 L469.2 114.68 L469.6 113.26 L470 113.08 L470.4 113.22 L470.8 113.93 L471.2 114.27 L471.6 114.03 L472 114.72 L472.4 113.69 L472.8 115.22 L473.2 112.9 L473.6 112.71 L474 113.36 L474.4 113.34 L474.8 113.76 L475.2 114.43 L475.6 113.85 L476 114.11 L476.4 114.68 L476.8 113.64 L477.2 115.26 L477.6 113.78 L478.01 115.5 L478.41 114.94 L478.81 113.85 L479.21 114.61 L479.61 114.13 L480.01 115.08 L480.41 113.85 L480.81 115.59 L481.21 114.36 L481.61 113.84 L482.01 115.74 L482.41 114.9 L482.81 113.95 L483.21 114.3 L483.61 114.86 L484.01 114.81 L484.41 114.01 L484.81 113.88 L485.21 113.18 L485.61 114.9 L486.01 114 L486.41 114.08 L486.81 114.36 L487.21 114.8 L487.62 114.3 L488.02 116.23 L488.42 114.79 L488.82 114.45 L489.22 114.99 L489.62 116.59 L490.02 114.67 L490.42 115.29 L490.82 114.35 L491.22 116.65 L491.62 115.04 L492.02 115.35 L492.42 115.47 L492.82 115.1 L493.22 116.3 L493.62 116.16 L494.02 115.43 L494.42 114.28 L494.82 114 L495.22 115.81 L495.62 116.83 L496.02 112.81 L496.42 114.96 L496.82 115.92 L497.22 115.58 L497.63 117.01 L498.03 116.24 L498.43 116.12 L498.83 116.48 L499.23 114.82 L499.63 115.94 L500.03 116.87 L500.43 116.69 L500.83 117.28 L501.23 117.13 L501.63 116.66 L502.03 116.5 L502.43 116.24 L502.83 116.22 L503.23 115.36 L503.63 117.05 L504.03 116.23 L504.43 115.91 L504.83 115.89 L505.23 115.7 L505.63 115.49 L506.03 117.05 L506.43 116.67 L506.83 114.47 L507.23 115.08 L507.64 115.21 L508.04 115.67 L508.44 115.25 L508.84 113.96 L509.24 116.07 L509.64 117.19 L510.04 114.07 L510.44 117.16 L510.84 115.69 L511.24 116.21 L511.64 115.68 L512.04 115.87 L512.44 115.04 L512.84 116.72 L513.24 117.09 L513.64 115.09 L514.04 115.96 L514.44 115.65 L514.84 115.95 L515.24 116.68 L515.64 115.66 L516.04 115.59 L516.44 112.63 L516.84 114.92 L517.24 116.96 L517.65 114.99 L518.05 116.57 L518.45 116.57 L518.85 115.06 L519.25 115.03 L519.65 116.37 L520.05 115.79 L520.45 117.09 L520.85 115.18 L521.25 114.88 L521.65 116.64 L522.05 116.18 L522.45 116.79 L522.85 113.45 L523.25 115.96 L523.65 116.33 L524.05 117.02 L524.45 115.48 L524.85 116.62 L525.25 116.36 L525.65 116.18 L526.05 112.97 L526.45 115.07 L526.85 116.11 L527.26 112.64 L527.66 116.45 L528.06 114.94 L528.46 116.27 L528.86 116.96 L529.26 116.64 L529.66 115.66 L530.06 112.57 L530.46 116.48 L530.86 113.58 L531.26 116.84 L531.66 116.41 L532.06 115.13 L532.46 115.88 L532.86 115.81 L533.26 115.19 L533.66 116.5 L534.06 115.7 L534.46 116.27 L534.86 116.59 L535.26 116.24 L535.66 114.92 L536.06 115.46 L536.46 114.95 L536.86 116.9 L537.27 115.45 L537.67 114.8 L538.07 116.76 L538.47 115.99 L538.87 115.31 L539.27 114 L539.67 112.65 L540.07 116.03 L540.47 114.44 L540.87 113.47 L541.27 114.43 L541.67 116.29 L542.07 116.39 L542.47 112.98 L542.87 114.49 L543.27 115.79 L543.67 115.68 L544.07 115.48 L544.47 112.59 L544.87 114.49 L545.27 113.99 L545.67 114.63 L546.07 114.62 L546.47 114.82 L546.87 115.99 L547.28 114.29 L547.68 114.15 L548.08 115.15 L548.48 114.67 L548.88 112 L549.28 112.47 L549.68 114.07 L550.08 114.21 L550.48 112.67 L550.88 114.24 L551.28 114.55 L551.68 114.69 L552.08 115.01 L552.48 114.86 L552.88 115.61 L553.28 114.79 L553.68 115.31 L554.08 115.54 L554.48 115.34 L554.88 115.3 L555.28 113.59 L555.68 115.1 L556.08 113.83 L556.48 114.39 L556.88 115.72 L557.29 115.85 L557.69 113.99 L558.09 114.41 L558.49 114.17 L558.89 115.1 L559.29 115.35 L559.69 114.1 L560.09 114.2 L560.49 114.66 L560.89 114.36 L561.29 115.26 L561.69 115.07 L562.09 114.15 L562.49 114.76 L562.89 111.85 L563.29 114.67 L563.69 115.2 L564.09 114.55 L564.49 113.93 L564.89 115.54 L565.29 114.52 L565.69 113.78 L566.09 113.33 L566.49 113.51 L566.9 115.12 L567.3 114.95 L567.7 115.66 L568.1 114.25 L568.5 113.6 L568.9 114.47 L569.3 114.05 L569.7 114.38 L570.1 114.11 L570.5 113.6 L570.9 115.33 L571.3 115.38 L571.7 112.82 L572.1 111.91 L572.5 114.67 L572.9 115.81 L573.3 114.34 L573.7 114.3 L574.1 114.12 L574.5 113.71 L574.9 114.23 L575.3 115.73 L575.7 115.02 L576.1 113.99 L576.5 113 L576.91 115.06 L577.31 113.89 L577.71 112.12 L578.11 114.64 L578.51 114.89 L578.91 114.72 L579.31 113.94 L579.71 115.21 L580.11 113.45 L580.51 115.73 L580.91 113.82 L581.31 114.45 L581.71 115.46 L582.11 112.34 L582.51 113.67 L582.91 115.59 L583.31 114.43 L583.71 115.32 L584.11 114.69 L584.51 114.48 L584.91 115.66 L585.31 113.96 L585.71 113.88 L586.11 114.56 L586.51 115.46 L586.92 115.11 L587.32 113.72 L587.72 115.23 L588.12 115.29 L588.52 114.5 L588.92 114.39 L589.32 115.33 L589.72 113.63 L590.12 115.22 L590.52 114.94 L590.92 114.55 L591.32 114.26 L591.72 113.78 L592.12 112.13 L592.52 113.41 L592.92 113.84 L593.32 113.86 L593.72 114.47 L594.12 113.68 L594.52 115.4 L594.92 113.52 L595.32 114.42 L595.72 112.09 L596.12 115.18 L596.52 114.29 L596.93 113.48 L597.33 114.35 L597.73 113.73 L598.13 114.89 L598.53 113.89 L598.93 113.47 L599.33 113.87 L599.73 115.05 L600.13 114.88 L600.53 112.73 L600.93 115.19 L601.33 111.17 L601.73 114.18 L602.13 114.28 L602.53 115.6 L602.93 115.6 L603.33 114.21 L603.73 114.33 L604.13 113.3 L604.53 115.49 L604.93 114.23 L605.33 113.94 L605.73 113.47 L606.13 112.27 L606.53 113.37 L606.94 113.49 L607.34 111.61 L607.74 114.11 L608.14 114.78 L608.54 114.3 L608.94 114.49 L609.34 113.27 L609.74 113.33 L610.14 113.93 L610.54 115.37 L610.94 113.62 L611.34 115.37 L611.74 113.15 L612.14 114.42 L612.54 111.44 L612.94 114.55 L613.34 113.82 L613.74 114.64 L614.14 114.08 L614.54 114.69 L614.94 113.38 L615.34 114.78 L615.74 113.9 L616.14 114.77 L616.55 113.1 L616.95 112.95 L617.35 114.72 L617.75 111.65 L618.15 112.68 L618.55 112.02 L618.95 114 L619.35 114.92 L619.75 110.8 L620.15 114.22 L620.55 113.17 L620.95 113.89 L621.35 114.71 L621.75 113.21 L622.15 114.7 L622.55 114.32 L622.95 113.2 L623.35 113.02 L623.75 113.6 L624.15 113.47 L624.55 113.04 L624.95 113.36 L625.35 114.24 L625.75 113.53 L626.15 113.12 L626.56 112.06 L626.96 114.34 L627.36 112.15 L627.76 113.81 L628.16 111.39 L628.56 113.74 L628.96 112.35 L629.36 112.97 L629.76 112.89 L630.16 114.13 L630.56 114.53 L630.96 114.68 L631.36 114.04 L631.76 113.82 L632.16 112.33 L632.56 112.37 L632.96 113.21 L633.36 113.75 L633.76 114.16 L634.16 113.22 L634.56 113.63 L634.96 113.47 L635.36 113.24 L635.76 112.66 L636.16 113.68 L636.57 112.62 L636.97 114.53 L637.37 114.26 L637.77 113.79 L638.17 114.27 L638.57 113.91 L638.97 110.58 L639.37 112.84 L639.77 112.68 L640.17 112.22 L640.57 112.23 L640.97 112.45 L641.37 111.72 L641.77 114.14 L642.17 113.92 L642.57 112.91 L642.97 112.91 L643.37 113.14 L643.77 113.58 L644.17 112.47 L644.57 114.59 L644.97 112.4 L645.37 114.42 L645.77 112.9 L646.17 114.37 L646.58 112.53 L646.98 110.91 L647.38 113.09 L647.78 113.31 L648.18 113.93 L648.58 113.08 L648.98 114.44 L649.38 113.41 L649.78 113.16 L650.18 114.41 L650.58 112.75 L650.98 114.5 L651.38 112.98 L651.78 114.01 L652.18 112.24 L652.58 113.05 L652.98 112.29 L653.38 110.12 L653.78 112.79 L654.18 112.55 L654.58 112.95 L654.98 113.05 L655.38 113.72 L655.78 110.99 L656.19 113.97 L656.59 113.78 L656.99 113.91 L657.39 110.68 L657.79 113.01 L658.19 113.96 L658.59 112.16 L658.99 112.07 L659.39 113.59 L659.79 112.56 L660.19 112.53 L660.59 113.81 L660.99 111.19 L661.39 113.28 L661.79 112.72 L662.19 112.65 L662.59 112.81 L662.99 112.09 L663.39 111.14 L663.79 112.63 L664.19 113.29 L664.59 114.23 L664.99 112.81 L665.39 112.26 L665.79 112.59 L666.2 113.21 L666.6 113.03 L667 110.89 L667.4 110.49 L667.8 112.31 L668.2 114.24 L668.6 112.83 L669 111.04 L669.4 111.36 L669.8 113.74 L670.2 113.8 L670.6 113.93 L671 113.31 L671 123.75 L670.6 122.53 L670.2 121.51 L669.8 122.16 L669.4 125.02 L669 123.66 L668.6 123.72 L668.2 122.22 L667.8 121.93 L667.4 123.32 L667 122.07 L666.6 123.77 L666.2 123.01 L665.79 122.7 L665.39 125.69 L664.99 121.74 L664.59 123.32 L664.19 123.29 L663.79 122.82 L663.39 123.21 L662.99 125.79 L662.59 121.91 L662.19 125.22 L661.79 123.24 L661.39 122.1 L660.99 123.25 L660.59 122.84 L660.19 123.73 L659.79 122.75 L659.39 122.53 L658.99 122.09 L658.59 123.32 L658.19 122.8 L657.79 123.33 L657.39 125.67 L656.99 122.86 L656.59 122.21 L656.19 123.22 L655.78 123.52 L655.38 124.28 L654.98 122.86 L654.58 123.45 L654.18 123.47 L653.78 122.59 L653.38 122.69 L652.98 122.86 L652.58 123.74 L652.18 121.7 L651.78 122.6 L651.38 123.42 L650.98 124.14 L650.58 122.31 L650.18 122.98 L649.78 122.41 L649.38 122.97 L648.98 124.19 L648.58 122.57 L648.18 121.79 L647.78 122.57 L647.38 123.58 L646.98 123.97 L646.58 123.81 L646.17 123.82 L645.77 122.68 L645.37 123.19 L644.97 122.52 L644.57 122.77 L644.17 124.47 L643.77 123.69 L643.37 123.84 L642.97 123.71 L642.57 123.41 L642.17 121.94 L641.77 123.36 L641.37 122.72 L640.97 122.24 L640.57 124.04 L640.17 123.61 L639.77 122.39 L639.37 125.5 L638.97 122.97 L638.57 123.7 L638.17 123.88 L637.77 123.67 L637.37 121.91 L636.97 125.92 L636.57 123.65 L636.16 121.97 L635.76 122.01 L635.36 124.5 L634.96 123.94 L634.56 124.95 L634.16 122.52 L633.76 123.98 L633.36 122.48 L632.96 122.24 L632.56 123.25 L632.16 124.65 L631.76 122.98 L631.36 124.02 L630.96 121.77 L630.56 123.06 L630.16 123.18 L629.76 123.08 L629.36 123.91 L628.96 123.52 L628.56 121.98 L628.16 122.68 L627.76 121.87 L627.36 123.11 L626.96 123.4 L626.56 121.77 L626.15 123.2 L625.75 122.7 L625.35 123.17 L624.95 124.07 L624.55 123.93 L624.15 123.7 L623.75 122.61 L623.35 124.67 L622.95 122.1 L622.55 122.92 L622.15 123.42 L621.75 122.78 L621.35 123.85 L620.95 123.79 L620.55 122.89 L620.15 125.08 L619.75 124.01 L619.35 122.88 L618.95 123.22 L618.55 122.63 L618.15 126.55 L617.75 123.01 L617.35 122.87 L616.95 122.47 L616.55 123.49 L616.14 124.17 L615.74 122.91 L615.34 124.29 L614.94 123.99 L614.54 124.6 L614.14 122.69 L613.74 123.82 L613.34 123.3 L612.94 122.41 L612.54 123.91 L612.14 122.81 L611.74 124.43 L611.34 123.93 L610.94 124.35 L610.54 124.56 L610.14 123.42 L609.74 123.67 L609.34 124.39 L608.94 123.2 L608.54 122.95 L608.14 123.93 L607.74 125.07 L607.34 126.98 L606.94 124.54 L606.53 122.8 L606.13 123.73 L605.73 124.89 L605.33 126.41 L604.93 122.71 L604.53 124.79 L604.13 123.31 L603.73 124.75 L603.33 125.54 L602.93 123.45 L602.53 123.6 L602.13 122.98 L601.73 123.12 L601.33 126.54 L600.93 123.43 L600.53 123.51 L600.13 122.75 L599.73 123.19 L599.33 123.83 L598.93 125.05 L598.53 125.59 L598.13 124.04 L597.73 123.68 L597.33 124.55 L596.93 124.98 L596.52 124.94 L596.12 127.23 L595.72 125.29 L595.32 123.6 L594.92 123.88 L594.52 124.21 L594.12 126.29 L593.72 122.87 L593.32 124.09 L592.92 124.59 L592.52 124.56 L592.12 124.73 L591.72 123.86 L591.32 123.08 L590.92 123.08 L590.52 126.63 L590.12 124.36 L589.72 124.6 L589.32 124.06 L588.92 122.74 L588.52 123.64 L588.12 122.97 L587.72 123.22 L587.32 124.95 L586.92 124.33 L586.51 123.61 L586.11 122.82 L585.71 125.05 L585.31 124.43 L584.91 123.44 L584.51 124.65 L584.11 126.29 L583.71 126.92 L583.31 124.69 L582.91 124.95 L582.51 123.16 L582.11 123.59 L581.71 123.27 L581.31 124.78 L580.91 127.12 L580.51 124.54 L580.11 126.77 L579.71 123.68 L579.31 123.87 L578.91 124.29 L578.51 123.13 L578.11 125.29 L577.71 124.36 L577.31 123.24 L576.91 124.44 L576.5 124.59 L576.1 124.72 L575.7 124.43 L575.3 123.7 L574.9 124.87 L574.5 124.42 L574.1 123.05 L573.7 123.65 L573.3 124.92 L572.9 123.26 L572.5 123.55 L572.1 123.08 L571.7 125.24 L571.3 123.11 L570.9 124.88 L570.5 123.78 L570.1 124.73 L569.7 122.96 L569.3 124.93 L568.9 126.23 L568.5 124.1 L568.1 122.97 L567.7 123.44 L567.3 123.59 L566.9 126.39 L566.49 123.78 L566.09 123.5 L565.69 125.06 L565.29 123.35 L564.89 123.69 L564.49 123.27 L564.09 123.91 L563.69 125.04 L563.29 123.78 L562.89 123.71 L562.49 124.51 L562.09 125.49 L561.69 124.52 L561.29 123.4 L560.89 123.64 L560.49 124.65 L560.09 123.86 L559.69 125.12 L559.29 124.59 L558.89 123.35 L558.49 124.12 L558.09 124.14 L557.69 124.17 L557.29 124.47 L556.88 124.82 L556.48 125.04 L556.08 124.93 L555.68 123.34 L555.28 123.2 L554.88 123.66 L554.48 123.84 L554.08 125.17 L553.68 126.5 L553.28 125.42 L552.88 123.77 L552.48 123.55 L552.08 127.24 L551.68 125.88 L551.28 123.78 L550.88 123.38 L550.48 125.35 L550.08 124.81 L549.68 125.01 L549.28 124.75 L548.88 123.38 L548.48 125.48 L548.08 127.02 L547.68 124.9 L547.28 123.8 L546.87 124.47 L546.47 125.25 L546.07 123.66 L545.67 125.28 L545.27 124.79 L544.87 124.71 L544.47 123.91 L544.07 124.42 L543.67 125.15 L543.27 125.89 L542.87 126.96 L542.47 125.32 L542.07 124.91 L541.67 123.94 L541.27 125.7 L540.87 125.11 L540.47 123.77 L540.07 126.01 L539.67 125.02 L539.27 126.16 L538.87 125.3 L538.47 125.17 L538.07 125.53 L537.67 124.59 L537.27 126.54 L536.86 124.28 L536.46 126.08 L536.06 125.3 L535.66 125.12 L535.26 125.33 L534.86 126.32 L534.46 125.82 L534.06 124.28 L533.66 125.56 L533.26 126.24 L532.86 125.96 L532.46 124.88 L532.06 125.69 L531.66 125.84 L531.26 124.18 L530.86 128.33 L530.46 124.41 L530.06 125.73 L529.66 128.5 L529.26 125.92 L528.86 126.5 L528.46 124.77 L528.06 125.29 L527.66 124.72 L527.26 124.77 L526.85 127.3 L526.45 125.93 L526.05 126.32 L525.65 124.49 L525.25 124.88 L524.85 126.01 L524.45 125.02 L524.05 126.41 L523.65 125.49 L523.25 124.14 L522.85 125.79 L522.45 127.59 L522.05 124.94 L521.65 125.52 L521.25 127.07 L520.85 124.51 L520.45 126.54 L520.05 125.09 L519.65 126.48 L519.25 124.55 L518.85 124.21 L518.45 126.68 L518.05 128.54 L517.65 126.39 L517.24 126.45 L516.84 124.81 L516.44 125.99 L516.04 126.16 L515.64 126.38 L515.24 124.82 L514.84 125 L514.44 125.48 L514.04 125.4 L513.64 127.85 L513.24 125.54 L512.84 125.64 L512.44 126.5 L512.04 124.94 L511.64 125.74 L511.24 124.25 L510.84 128.19 L510.44 125.21 L510.04 127.72 L509.64 125.42 L509.24 124.7 L508.84 124.78 L508.44 125.25 L508.04 126.1 L507.64 125.37 L507.23 124.44 L506.83 126.49 L506.43 125.99 L506.03 124.76 L505.63 125.52 L505.23 126 L504.83 126.53 L504.43 125.73 L504.03 124.63 L503.63 126.58 L503.23 124.79 L502.83 126.12 L502.43 126.2 L502.03 124.64 L501.63 124.75 L501.23 124.78 L500.83 125.34 L500.43 126.22 L500.03 126.19 L499.63 127.81 L499.23 127.85 L498.83 124.79 L498.43 125.44 L498.03 124.52 L497.63 126.01 L497.22 125.75 L496.82 125.18 L496.42 124.35 L496.02 124.95 L495.62 124.65 L495.22 124.93 L494.82 125.65 L494.42 126.16 L494.02 125.99 L493.62 126.71 L493.22 125.76 L492.82 126.12 L492.42 125.41 L492.02 124.11 L491.62 124.68 L491.22 124.55 L490.82 125.56 L490.42 125.66 L490.02 125.44 L489.62 123.97 L489.22 124.17 L488.82 126.22 L488.42 124.61 L488.02 124.59 L487.62 124.04 L487.21 123.68 L486.81 123.77 L486.41 123.71 L486.01 125.13 L485.61 125.9 L485.21 123.94 L484.81 127.24 L484.41 124.26 L484.01 125.36 L483.61 124.82 L483.21 124.69 L482.81 123.32 L482.41 123.92 L482.01 125.91 L481.61 125.54 L481.21 125.68 L480.81 124.73 L480.41 123.63 L480.01 125.16 L479.61 123.7 L479.21 126.36 L478.81 124.51 L478.41 123.31 L478.01 126.86 L477.6 124.36 L477.2 123.49 L476.8 123.29 L476.4 123.35 L476 124.78 L475.6 123.08 L475.2 125.11 L474.8 123.61 L474.4 122.82 L474 123.3 L473.6 122.88 L473.2 123.16 L472.8 124.09 L472.4 124.46 L472 124.1 L471.6 124.86 L471.2 122.55 L470.8 124.16 L470.4 123.83 L470 122.72 L469.6 122.89 L469.2 123.18 L468.8 124.59 L468.4 123.27 L468 122.63 L467.59 123.3 L467.19 123.25 L466.79 125.45 L466.39 123.71 L465.99 122.19 L465.59 123.89 L465.19 123.17 L464.79 123.17 L464.39 122.56 L463.99 123.84 L463.59 123.86 L463.19 122.85 L462.79 121.87 L462.39 122.04 L461.99 125.83 L461.59 123.11 L461.19 122.53 L460.79 122.59 L460.39 122.68 L459.99 122.09 L459.59 123.83 L459.19 123.81 L458.79 123.78 L458.39 122.57 L457.99 124.27 L457.58 122.39 L457.18 123.43 L456.78 122.7 L456.38 122.63 L455.98 121.94 L455.58 125.57 L455.18 121.69 L454.78 122.15 L454.38 121.93 L453.98 121.79 L453.58 122.89 L453.18 125.12 L452.78 122.61 L452.38 121.79 L451.98 123.83 L451.58 124.71 L451.18 122.12 L450.78 122.52 L450.38 122.88 L449.98 123.37 L449.58 124.25 L449.18 122.58 L448.78 124.41 L448.38 124.14 L447.98 123.64 L447.57 123.72 L447.17 125.21 L446.77 122.18 L446.37 124.1 L445.97 123.12 L445.57 123.24 L445.17 124.14 L444.77 121.91 L444.37 123.65 L443.97 122.3 L443.57 121.93 L443.17 124.24 L442.77 124.18 L442.37 122.34 L441.97 123.47 L441.57 126.13 L441.17 122.79 L440.77 122.07 L440.37 123.84 L439.97 124.29 L439.57 122.3 L439.17 122.69 L438.77 122.53 L438.37 123.75 L437.97 124.32 L437.56 123.7 L437.16 123.41 L436.76 122.19 L436.36 122.54 L435.96 122.44 L435.56 122.44 L435.16 122.49 L434.76 123.33 L434.36 124.51 L433.96 122.44 L433.56 123.47 L433.16 124.47 L432.76 124.85 L432.36 124.62 L431.96 122.92 L431.56 123.9 L431.16 122.39 L430.76 124.08 L430.36 123.24 L429.96 122.45 L429.56 126.32 L429.16 123.91 L428.76 124.17 L428.36 123.71 L427.95 124.52 L427.55 123.83 L427.15 123.08 L426.75 122.4 L426.35 122.32 L425.95 122.33 L425.55 123.22 L425.15 124.57 L424.75 125.17 L424.35 124.27 L423.95 124.68 L423.55 125.56 L423.15 122.72 L422.75 123.82 L422.35 123.81 L421.95 124.75 L421.55 124.58 L421.15 123.64 L420.75 122.77 L420.35 122.77 L419.95 123.12 L419.55 123.39 L419.15 124.81 L418.75 124.38 L418.35 123.26 L417.94 122.45 L417.54 125.35 L417.14 124.2 L416.74 123.12 L416.34 125.57 L415.94 125.48 L415.54 123.98 L415.14 123.92 L414.74 122.96 L414.34 125.67 L413.94 125.91 L413.54 124.46 L413.14 124.31 L412.74 123.68 L412.34 124.34 L411.94 126.08 L411.54 124.39 L411.14 123.24 L410.74 123.25 L410.34 124.62 L409.94 124.75 L409.54 122.47 L409.14 123.15 L408.74 125.16 L408.34 124.5 L407.93 123.91 L407.53 122.66 L407.13 124.31 L406.73 122.94 L406.33 122.92 L405.93 122.77 L405.53 124.61 L405.13 122.43 L404.73 122.69 L404.33 125.98 L403.93 122.97 L403.53 123.21 L403.13 124.65 L402.73 124.13 L402.33 123.24 L401.93 122.65 L401.53 126.53 L401.13 123.37 L400.73 124.64 L400.33 123.92 L399.93 123.89 L399.53 123.8 L399.13 124.53 L398.73 123.63 L398.33 124.24 L397.92 122.3 L397.52 122.75 L397.12 123.5 L396.72 124.44 L396.32 122.95 L395.92 126.47 L395.52 122.95 L395.12 124.33 L394.72 123.4 L394.32 122.57 L393.92 126.04 L393.52 123.87 L393.12 124.56 L392.72 123.24 L392.32 123.48 L391.92 122.86 L391.52 124.62 L391.12 124.61 L390.72 124.28 L390.32 124.3 L389.92 124.29 L389.52 124.62 L389.12 124.19 L388.72 123.83 L388.31 123.49 L387.91 124.64 L387.51 123.13 L387.11 122.89 L386.71 124.56 L386.31 124.25 L385.91 123.78 L385.51 122.89 L385.11 123.73 L384.71 124.87 L384.31 124.26 L383.91 123.67 L383.51 124.44 L383.11 122.79 L382.71 123.52 L382.31 122.58 L381.91 124.27 L381.51 124.32 L381.11 122.69 L380.71 123.69 L380.31 125.38 L379.91 123.64 L379.51 122.73 L379.11 123.1 L378.71 123.13 L378.3 124.74 L377.9 122.51 L377.5 123.46 L377.1 124.1 L376.7 124.55 L376.3 126.31 L375.9 122.52 L375.5 123.21 L375.1 124.22 L374.7 124.49 L374.3 123.7 L373.9 122.4 L373.5 125.56Z" fill="#000"/>
<path d="M574.29 119.34 v6.35 M653.37 118.02 v-7.41 M582.16 119.28 v6.96 M380.14 118.8 v-7.35 M550.14 119.7 v-7.13 M384.08 118.8 v-7.35 M387.57 118.8 v5.77 M592.62 119.22 v-5.92 M638.98 118.16 v6.83 M414 118.8 v6.33 M376.46 118.8 v-6.34 M668.34 117.91 v5.71 M622.39 118.36 v-6.96 M579.6 119.3 v-6.49 M418.12 118.8 v6.52 M414.08 118.8 v-7.25 M453.61 118.03 v-5.98 M565.54 119.39 v6.64 M525.61 120.61 v6.53 M438.66 118.61 v-5.53 M467.42 118.64 v-5.75 M385.67 118.8 v-7.34 M633.43 118.19 v6.89 M598.14 119.2 v6.1 M435.98 118.7 v6.61 M603.13 119.17 v-5.84 M617.42 118.58 v7.11 M410.23 118.8 v-5.92 M587.91 119.24 v6.99 M604.29 119.14 v6.53 M645.82 118.1 v6.8 M548.31 119.8 v6.49 M543.55 120.09 v-5.76 M499.16 120.79 v6.36 M481.66 119.53 v-6.28 M484.52 119.67 v-7.44 M380.47 118.8 v-6.94 M507.25 120.77 v-6.68 M445.7 118.3 v5.53 M651.1 118.05 v-6.07 M470.55 118.95 v5.62 M621 118.42 v-5.98 M580.42 119.3 v-7.09 M489.22 120.07 v5.97 M628.95 118.2 v-7.22 M447 118 v-10 M610.7 118 v-10 M495 121 v8 M561 120 v-9" fill="none" stroke="#111" stroke-width="1"/>
</g>
<text transform="translate(16 121.5) rotate(-90)" text-anchor="middle" font-size="11.2" fill="#333" font-family='"Liberation Sans", sans-serif'>V<tspan font-size="7.8" dy="2">OUT</tspan><tspan dy="-2"> (1 mV/div)</tspan></text>
<text transform="translate(357.6 121.4) rotate(-90)" text-anchor="middle" font-size="11.2" fill="#333" font-family='"Liberation Sans", sans-serif'>V<tspan font-size="7.8" dy="2">OUT</tspan><tspan dy="-2"> (1 mV/div)</tspan></text>
<text x="179.2" y="242.0" text-anchor="middle" font-size="10.9" fill="#333" font-family='"Liberation Sans", sans-serif'>1 µs/div</text>
<text x="522.2" y="242.0" text-anchor="middle" font-size="10.9" fill="#333" font-family='"Liberation Sans", sans-serif'>1 µs/div</text>
<path d="M63.9 286.2V455.1M88.3 286.2V455.1M112.7 286.2V455.1M137.1 286.2V455.1M161.5 286.2V455.1M185.9 286.2V455.1M210.3 286.2V455.1M234.7 286.2V455.1M259.1 286.2V455.1M39.5 445.72H283.5M39.5 436.33H283.5M39.5 426.95H283.5M39.5 417.57H283.5M39.5 408.18H283.5M39.5 398.8H283.5M39.5 389.42H283.5M39.5 380.03H283.5M39.5 370.65H283.5M39.5 361.27H283.5M39.5 351.88H283.5M39.5 342.5H283.5M39.5 333.12H283.5M39.5 323.73H283.5M39.5 314.35H283.5M39.5 304.97H283.5M39.5 295.58H283.5" stroke="#1e1e1e" stroke-width="1.15" fill="none"/>
<path d="M41.76 455.1V453.76M44.22 455.1V416.49M46.68 455.1V432.97M49.14 455.1V439.46M51.6 455.1V443.13M54.06 455.1V444.26M56.52 455.1V448.25M58.98 455.1V451.18M61.44 455.1V453.57M63.9 455.1V453.61M66.35 455.1V452.16M68.81 455.1V450.47M71.27 455.1V449.23M73.73 455.1V448.97M76.19 455.1V448.49M78.65 455.1V449.69M81.11 455.1V451.31M83.57 455.1V452.45M86.03 455.1V453.74M88.49 455.1V453.69M90.95 455.1V452.51M93.41 455.1V451.02M95.87 455.1V449.48M98.33 455.1V449.03M100.79 455.1V449.08M103.25 455.1V449.76M105.71 455.1V451.71M108.17 455.1V452.82M110.63 455.1V453.8M113.09 455.1V453.34M115.55 455.1V452.36M118 455.1V450.79M120.46 455.1V450.07M122.92 455.1V449.26M125.38 455.1V449.39M127.84 455.1V450.49M130.3 455.1V452.08M132.76 455.1V453.42M135.22 455.1V453.87M137.68 455.1V452.51M140.14 455.1V451.09M142.6 455.1V449.24M145.06 455.1V447.51M147.52 455.1V446.75M149.98 455.1V448.1M152.44 455.1V449.97M154.9 455.1V451.5M157.36 455.1V453.18M159.82 455.1V453.25M162.28 455.1V451.9M164.74 455.1V449.66M167.2 455.1V447.09M169.65 455.1V444.46M172.11 455.1V445.36M174.57 455.1V446.31M177.03 455.1V448.42M179.49 455.1V450.62M181.95 455.1V452.51M184.41 455.1V453.1M186.87 455.1V450.28M189.33 455.1V446.52M191.79 455.1V441.23M194.25 455.1V436.75M196.71 455.1V432.94M199.17 455.1V433.59M201.63 455.1V439.31M204.09 455.1V443.53M206.55 455.1V448.65M209.01 455.1V439.78M211.47 455.1V430.03M213.93 455.1V416.33M216.39 455.1V408.19M218.84 455.1V405.24M221.3 455.1V410.34M223.76 455.1V414.94M226.22 455.1V430.79M228.68 455.1V440.5M231.14 455.1V446.07M233.6 455.1V439.85M236.06 455.1V434.22M238.52 455.1V428.82M240.98 455.1V425.26M243.44 455.1V424.62M245.9 455.1V430.26M248.36 455.1V438.8M250.82 455.1V443.32M253.28 455.1V448.92M255.74 455.1V450.25M258.2 455.1V446.48M260.66 455.1V442.67M263.12 455.1V437.93M265.58 455.1V437.91M268.04 455.1V440.38M270.49 455.1V444.11M272.95 455.1V447.97M275.41 455.1V451.21M277.87 455.1V453.27M280.33 455.1V453.96M282.79 455.1V453.87" stroke="#1a1a1a" stroke-width="1.6" fill="none"/>
<rect x="40" y="304.97" width="3.04" height="150.13" fill="#a0a0a0"/>
<path d="M42.54 455.1V304.97" stroke="#222" stroke-width="1" fill="none"/>
<path d="M39.5 455.1 L42.43 447.21 L43.04 451.05 L43.65 451.02 L44.26 447.79 L44.87 450.49 L45.48 450.01 L46.09 449.55 L46.7 446.77 L47.31 450.55 L47.92 451.07 L48.53 450.21 L49.14 448.06 L49.75 451.75 L50.36 452.41 L50.97 451.72 L51.58 451.23 L52.19 452.6 L52.8 453.45 L53.41 453.38 L54.02 452.93 L54.63 453.8 L55.24 454.23 L55.85 454.32 L56.46 454.19 L57.07 454.08 L57.68 454.03 L58.29 454.14 L58.9 454.13 L59.51 454.26 L60.12 454.26 L60.73 454.32 L61.34 454.03 L61.95 454.34 L62.56 454.15 L63.17 454.23 L63.78 454.29 L64.39 454.21 L65 454.04 L65.61 454.27 L66.22 454.3 L66.83 454.14 L67.44 454.13 L68.05 454.18 L68.66 454.29 L69.27 454.06 L69.88 454.31 L70.49 454.29 L71.1 454.27 L71.71 454.18 L72.32 454.19 L72.93 454.17 L73.54 454.11 L74.15 454.06 L74.76 454.2 L75.37 454.34 L75.98 454.08 L76.59 454.34 L77.2 454.24 L77.81 454.3 L78.42 454.15 L79.03 454.09 L79.64 454.31 L80.25 454.25 L80.86 454.07 L81.47 454.12 L82.08 454.31 L82.69 454.12 L83.3 454.09 L83.91 454.22 L84.52 454.3 L85.13 454.13 L85.74 454.24 L86.35 454.31 L86.96 454.3 L87.57 454.22 L88.18 454.31 L88.79 454.22 L89.4 454.17 L90.01 454.17 L90.62 454.22 L91.23 454.09 L91.84 454.32 L92.45 454.24 L93.06 454.04 L93.67 454.07 L94.28 454.05 L94.89 454.1 L95.5 454.17 L96.11 454.09 L96.72 454.16 L97.33 454.31 L97.94 454.27 L98.55 454.32 L99.16 454.06 L99.77 454.24 L100.38 454.22 L100.99 454.17 L101.6 454.32 L102.21 454.12 L102.82 454.09 L103.43 454.09 L104.04 454.06 L104.65 454.25 L105.26 454.3 L105.87 454.1 L106.48 454.12 L107.09 454.23 L107.7 454.24 L108.31 454.3 L108.92 454.08 L109.53 454.2 L110.14 454.08 L110.75 454.24 L111.36 454.24 L111.97 454.18 L112.58 454.1 L113.19 454.06 L113.8 454.23 L114.41 454.12 L115.02 454.22 L115.63 454.07 L116.24 454.1 L116.85 454.17 L117.46 454.23 L118.07 454.26 L118.68 454.06 L119.29 454.09 L119.9 454.25 L120.51 454.32 L121.12 454.29 L121.73 454.03 L122.34 454.34 L122.95 454.08 L123.56 454.18 L124.17 454.17 L124.78 454.17 L125.39 454.21 L126 454.17 L126.61 454.32 L127.22 454.05 L127.83 454.32 L128.44 454.3 L129.05 454.13 L129.66 454.14 L130.27 454.08 L130.88 454.12 L131.49 454.04 L132.1 454.33 L132.71 454.35 L133.32 454.27 L133.93 454.09 L134.54 454.3 L135.15 454.17 L135.76 454.1 L136.37 454.3 L136.98 454.18 L137.59 454.05 L138.2 454.1 L138.81 454.22 L139.42 454.19 L140.03 454.26 L140.64 454.03 L141.25 454.09 L141.86 454.13 L142.47 454.25 L143.08 454.11 L143.69 454.19 L144.3 454.09 L144.91 454.23 L145.52 454.06 L146.13 454.12 L146.74 454.2 L147.35 454.16 L147.96 454.08 L148.57 454.18 L149.18 454.03 L149.79 454.35 L150.4 454.05 L151.01 454.11 L151.62 454.19 L152.23 454.07 L152.84 454.3 L153.45 454.24 L154.06 454.11 L154.67 454.08 L155.28 454.23 L155.89 454.02 L156.5 454.14 L157.11 454.33 L157.72 454.31 L158.33 454.32 L158.94 454.16 L159.55 454.24 L160.16 454.26 L160.77 454.2 L161.38 454.32 L161.99 454.05 L162.6 454.07 L163.21 454.17 L163.82 454.2 L164.43 454.25 L165.04 454.15 L165.65 454.24 L166.26 454.03 L166.87 454.04 L167.48 454.11 L168.09 454.08 L168.7 454.32 L169.31 454.31 L169.92 454.24 L170.53 454.31 L171.14 454.21 L171.75 454.03 L172.36 454.08 L172.97 454.03 L173.58 454.28 L174.19 454.28 L174.8 454.34 L175.41 454.26 L176.02 454.33 L176.63 454.18 L177.24 454.25 L177.85 454.13 L178.46 454.17 L179.07 454.14 L179.68 454.2 L180.29 453.99 L180.9 453.95 L181.51 453.88 L182.12 453.92 L182.73 453.86 L183.34 453.88 L183.95 453.95 L184.56 453.67 L185.17 453.52 L185.78 453.69 L186.39 453.22 L187 453.13 L187.61 453.06 L188.22 452.99 L188.83 453.13 L189.44 453.28 L190.05 453.13 L190.66 452.68 L191.27 452.37 L191.88 453.02 L192.49 453.04 L193.1 452.63 L193.71 452.54 L194.32 452.2 L194.93 452.6 L195.54 451.72 L196.15 452.17 L196.76 451.41 L197.37 451.98 L197.98 451.91 L198.59 451.97 L199.2 450.84 L199.81 451.22 L200.42 450.77 L201.03 451.74 L201.64 450.94 L202.25 450.53 L202.86 450.02 L203.47 449.96 L204.08 451.19 L204.69 450.65 L205.3 449.47 L205.91 450.15 L206.52 449.28 L207.13 450.44 L207.74 450.77 L208.35 448.92 L208.96 450.13 L209.57 449.44 L210.18 449.74 L210.79 449.2 L211.4 448.35 L212.01 448.21 L212.62 448.26 L213.23 449.52 L213.84 448.18 L214.45 449.9 L215.06 448.92 L215.67 447.62 L216.28 449.15 L216.89 448.82 L217.5 448.25 L218.11 449.01 L218.72 447.81 L219.33 447.89 L219.94 449.22 L220.55 447.12 L221.16 449.2 L221.77 447.6 L222.38 448.44 L222.99 448.93 L223.6 449.08 L224.21 446.72 L224.82 447.21 L225.43 448.07 L226.04 447.21 L226.65 446.76 L227.26 446.88 L227.87 447.9 L228.48 448.57 L229.09 447.97 L229.7 446.83 L230.31 447.5 L230.92 447.69 L231.53 447.3 L232.14 448.42 L232.75 448.1 L233.36 447.44 L233.97 449.08 L234.58 447.55 L235.19 449.61 L235.8 448.46 L236.41 448.45 L237.02 449.51 L237.63 447.82 L238.24 449 L238.85 449.64 L239.46 449.23 L240.07 448.93 L240.68 449.37 L241.29 450.35 L241.9 450.25 L242.51 449.09 L243.12 450.35 L243.73 450.2 L244.34 449.26 L244.95 449.28 L245.56 449.36 L246.17 450.74 L246.78 451.13 L247.39 449.96 L248 450.34 L248.61 450.83 L249.22 451.48 L249.83 450.95 L250.44 451.35 L251.05 450.94 L251.66 450.5 L252.27 451.69 L252.88 451.97 L253.49 451.26 L254.1 452.11 L254.71 452.07 L255.32 451.91 L255.93 451.4 L256.54 452.24 L257.15 452.35 L257.76 452.28 L258.37 452.69 L258.98 452.55 L259.59 452.37 L260.2 452.8 L260.81 452.49 L261.42 453.09 L262.03 453.23 L262.64 452.91 L263.25 453.13 L263.86 452.88 L264.47 453.52 L265.08 453.18 L265.69 453.31 L266.3 453.56 L266.91 453.76 L267.52 453.57 L268.13 453.56 L268.74 453.77 L269.35 453.83 L269.96 453.8 L270.57 453.9 L271.18 454.03 L271.79 454.17 L272.4 454.12 L273.01 454.14 L273.62 454.05 L274.23 454.02 L274.84 454.17 L275.45 454.24 L276.06 454.28 L276.67 454.14 L277.28 454.11 L277.89 454.27 L278.5 454.12 L279.11 454.02 L279.72 454.22 L280.33 454.04 L280.94 454.21 L281.55 454.14 L282.16 454.06 L282.77 454.28 L283.38 454.24 L283.5 455.1 Z" fill="#f0200f" stroke="none"/>
<rect x="40" y="398.8" width="2.94" height="56.3" fill="#e08585"/>
<rect x="39.5" y="286.2" width="244" height="168.9" fill="none" stroke="#111" stroke-width="1.6"/>
<path d="M39.5 455.1H283.5" stroke="#5a0a05" stroke-width="1.8"/>
<text x="35.2" y="458.38" text-anchor="end" font-size="9.1" fill="#3a3a3a" font-family='"Liberation Sans", sans-serif'>0</text>
<text x="35.2" y="439.61" text-anchor="end" font-size="9.1" fill="#3a3a3a" font-family='"Liberation Sans", sans-serif'>50</text>
<text x="35.2" y="420.84" text-anchor="end" font-size="9.1" fill="#3a3a3a" font-family='"Liberation Sans", sans-serif'>100</text>
<text x="35.2" y="402.08" text-anchor="end" font-size="9.1" fill="#3a3a3a" font-family='"Liberation Sans", sans-serif'>150</text>
<text x="35.2" y="383.31" text-anchor="end" font-size="9.1" fill="#3a3a3a" font-family='"Liberation Sans", sans-serif'>200</text>
<text x="35.2" y="364.54" text-anchor="end" font-size="9.1" fill="#3a3a3a" font-family='"Liberation Sans", sans-serif'>250</text>
<text x="35.2" y="345.78" text-anchor="end" font-size="9.1" fill="#3a3a3a" font-family='"Liberation Sans", sans-serif'>300</text>
<text x="35.2" y="327.01" text-anchor="end" font-size="9.1" fill="#3a3a3a" font-family='"Liberation Sans", sans-serif'>350</text>
<text x="35.2" y="308.24" text-anchor="end" font-size="9.1" fill="#3a3a3a" font-family='"Liberation Sans", sans-serif'>400</text>
<text x="35.2" y="289.48" text-anchor="end" font-size="9.1" fill="#3a3a3a" font-family='"Liberation Sans", sans-serif'>450</text>
<text x="39.2" y="468" text-anchor="middle" font-size="8.6" fill="#3a3a3a" font-family='"Liberation Sans", sans-serif'>0x10<tspan font-size="4.82" dy="-4.3">0</tspan></text>
<text x="88" y="468" text-anchor="middle" font-size="8.6" fill="#3a3a3a" font-family='"Liberation Sans", sans-serif'>2x10<tspan font-size="4.82" dy="-4.3">7</tspan></text>
<text x="136.8" y="468" text-anchor="middle" font-size="8.6" fill="#3a3a3a" font-family='"Liberation Sans", sans-serif'>4x10<tspan font-size="4.82" dy="-4.3">7</tspan></text>
<text x="185.6" y="468" text-anchor="middle" font-size="8.6" fill="#3a3a3a" font-family='"Liberation Sans", sans-serif'>6x10<tspan font-size="4.82" dy="-4.3">7</tspan></text>
<text x="234.4" y="468" text-anchor="middle" font-size="8.6" fill="#3a3a3a" font-family='"Liberation Sans", sans-serif'>8x10<tspan font-size="4.82" dy="-4.3">7</tspan></text>
<text x="283.2" y="468" text-anchor="middle" font-size="8.6" fill="#3a3a3a" font-family='"Liberation Sans", sans-serif'>1x10<tspan font-size="4.82" dy="-4.3">8</tspan></text>
<text x="162.6" y="478" text-anchor="middle" font-size="8.8" fill="#333" font-family='"Liberation Sans", sans-serif' letter-spacing="0.2">Frequency (Hz)</text>
<rect x="159.3" y="286.2" width="124.2" height="39.6" fill="#fff" stroke="#111" stroke-width="1.5"/>
<text x="164" y="299" font-size="8.9" fill="#1c1c1c" font-family='"Liberation Sans", sans-serif' textLength="115" lengthAdjust="spacingAndGlyphs">Spread Spectrum Modulation</text>
<path d="M194.3 306.2H211.2" stroke="#111" stroke-width="1.6"/>
<path d="M194.3 316.7H211.2" stroke="#ee2a1c" stroke-width="1.6"/>
<text x="216" y="308.32" font-size="8.5" fill="#1c1c1c" font-family='"Liberation Sans", sans-serif' letter-spacing="0.2">OFF</text>
<text x="216" y="318.82" font-size="8.5" fill="#1c1c1c" font-family='"Liberation Sans", sans-serif'>Random</text>
<path d="M409.79 268.6V452.6M435.98 268.6V452.6M462.17 268.6V452.6M488.36 268.6V452.6M514.55 268.6V452.6M540.74 268.6V452.6M566.93 268.6V452.6M593.12 268.6V452.6M619.31 268.6V452.6M383.6 443.4H645.5M383.6 434.2H645.5M383.6 425H645.5M383.6 415.8H645.5M383.6 406.6H645.5M383.6 397.4H645.5M383.6 388.2H645.5M383.6 379H645.5M383.6 369.8H645.5M383.6 360.6H645.5M383.6 351.4H645.5M383.6 342.2H645.5M383.6 333H645.5M383.6 323.8H645.5M383.6 314.6H645.5M383.6 305.4H645.5M383.6 296.2H645.5M383.6 287H645.5M383.6 277.8H645.5" stroke="#1e1e1e" stroke-width="1.15" fill="none"/>
<path d="M386.02 452.6V451.77M388.64 452.6V431.95M391.26 452.6V426.75M393.88 452.6V436.43M396.5 452.6V440.01M399.11 452.6V442.78M401.73 452.6V446.03M404.35 452.6V448.46M406.97 452.6V450.08M409.59 452.6V451.02M412.21 452.6V450.82M414.83 452.6V451.49M417.45 452.6V449.84M420.07 452.6V449.11M422.69 452.6V448.19M425.3 452.6V448.77M427.92 452.6V449.34M430.54 452.6V451.37M433.16 452.6V451.9M435.78 452.6V451.25M438.4 452.6V449.23M441.02 452.6V447.99M443.64 452.6V447.4M446.26 452.6V446.94M448.88 452.6V447.38M451.49 452.6V448.64M454.11 452.6V450.3M456.73 452.6V450.83M459.35 452.6V451M461.97 452.6V450.01M464.59 452.6V450.39M467.21 452.6V449.82M469.83 452.6V447.54M472.45 452.6V445.98M475.07 452.6V445.83M477.68 452.6V448.75M480.3 452.6V451.26M482.92 452.6V450M485.54 452.6V451.87M488.16 452.6V449.89M490.78 452.6V448.7M493.4 452.6V448.13M496.02 452.6V447.23M498.64 452.6V448.06M501.25 452.6V449.38M503.87 452.6V451.05M506.49 452.6V450.41M509.11 452.6V450.28M511.73 452.6V451.66M514.35 452.6V451.72M516.97 452.6V449.73M519.59 452.6V448.88M522.21 452.6V448.76M524.83 452.6V449.26M527.44 452.6V449.72M530.06 452.6V451.24M532.68 452.6V449.88M535.3 452.6V450.31M537.92 452.6V450.71M540.54 452.6V450.31M543.16 452.6V449.73M545.78 452.6V448.37M548.4 452.6V448.16M551.02 452.6V447.4M553.63 452.6V448.49M556.25 452.6V449.53M558.87 452.6V449.86M561.49 452.6V451.01M564.11 452.6V449.85M566.73 452.6V450.46M569.35 452.6V447.36M571.97 452.6V442.38M574.59 452.6V438.27M577.21 452.6V434.69M579.83 452.6V433.6M582.44 452.6V437.28M585.06 452.6V442.17M587.68 452.6V447.56M590.3 452.6V449.33M592.92 452.6V446.05M595.54 452.6V442.36M598.16 452.6V439.99M600.78 452.6V439.62M603.4 452.6V443.27M606.01 452.6V446.78M608.63 452.6V449.63M611.25 452.6V448.83M613.87 452.6V446.47M616.49 452.6V442.57M619.11 452.6V439.86M621.73 452.6V438.73M624.35 452.6V440.08M626.97 452.6V440.85M629.59 452.6V443.64M632.2 452.6V446.93M634.82 452.6V449.56M637.44 452.6V451.09M640.06 452.6V445.43M642.68 452.6V442.61" stroke="#1a1a1a" stroke-width="1.6" fill="none"/>
<rect x="384.1" y="369.8" width="3.22" height="82.8" fill="#a0a0a0"/>
<path d="M386.82 452.6V369.8" stroke="#222" stroke-width="1" fill="none"/>
<path d="M383.6 452.6 L386.74 441.46 L387.4 447.14 L388.05 446.25 L388.71 445.32 L389.36 448.42 L390.02 447.85 L390.67 449.27 L391.33 445.71 L391.98 448.45 L392.64 448.87 L393.29 448.26 L393.95 446.54 L394.6 449.48 L395.25 449.88 L395.91 449.91 L396.56 449.22 L397.22 451.31 L397.87 450.23 L398.53 450.44 L399.18 451.05 L399.84 451.19 L400.49 451.07 L401.15 450.59 L401.8 451.17 L402.46 451.29 L403.11 450.77 L403.77 451.31 L404.42 451.03 L405.08 450.89 L405.73 451.09 L406.39 451.31 L407.04 451.02 L407.69 451.04 L408.35 450.95 L409 450.85 L409.66 450.91 L410.31 450.95 L410.97 451.29 L411.62 450.39 L412.28 450.5 L412.93 450.77 L413.59 451.31 L414.24 451.05 L414.9 450.32 L415.55 450.81 L416.21 451.09 L416.86 450.41 L417.52 450.33 L418.17 451.18 L418.83 450.76 L419.48 450.69 L420.14 451.18 L420.79 450.96 L421.44 450.63 L422.1 450.57 L422.75 450.62 L423.41 450.63 L424.06 450.89 L424.72 451.24 L425.37 451.29 L426.03 450.39 L426.68 450.36 L427.34 450.31 L427.99 451.23 L428.65 450.46 L429.3 451.12 L429.96 450.93 L430.61 451.09 L431.27 450.36 L431.92 450.41 L432.58 450.39 L433.23 450.89 L433.88 450.28 L434.54 451.02 L435.19 450.68 L435.85 450.57 L436.5 451.05 L437.16 450.89 L437.81 451.2 L438.47 450.43 L439.12 451.11 L439.78 451.16 L440.43 451.01 L441.09 450.61 L441.74 450.61 L442.4 450.73 L443.05 450.37 L443.71 450.48 L444.36 451.08 L445.02 450.72 L445.67 451.12 L446.33 451.05 L446.98 451.15 L447.63 451.23 L448.29 450.93 L448.94 450.33 L449.6 450.59 L450.25 451.22 L450.91 451.07 L451.56 450.66 L452.22 450.73 L452.87 451.28 L453.53 451.21 L454.18 450.69 L454.84 450.65 L455.49 451.22 L456.15 450.46 L456.8 451.05 L457.46 450.66 L458.11 450.73 L458.77 450.94 L459.42 450.27 L460.07 450.88 L460.73 450.84 L461.38 450.72 L462.04 450.39 L462.69 450.22 L463.35 450.46 L464 450.72 L464.66 450.52 L465.31 450.61 L465.97 450.25 L466.62 450.24 L467.28 450.47 L467.93 451.07 L468.59 450.68 L469.24 450.83 L469.9 451.06 L470.55 450.45 L471.21 451.07 L471.86 450.53 L472.52 450.77 L473.17 450.84 L473.82 450.53 L474.48 450.51 L475.13 450.22 L475.79 450.21 L476.44 450.43 L477.1 451.02 L477.75 450.57 L478.41 450.76 L479.06 450.27 L479.72 450.82 L480.37 450.92 L481.03 451.28 L481.68 450.79 L482.34 450.72 L482.99 450.97 L483.65 451.2 L484.3 450.78 L484.96 451.23 L485.61 451.12 L486.26 450.82 L486.92 450.93 L487.57 450.76 L488.23 450.73 L488.88 450.88 L489.54 451.16 L490.19 451.29 L490.85 450.69 L491.5 450.24 L492.16 451 L492.81 450.92 L493.47 450.96 L494.12 450.49 L494.78 450.77 L495.43 450.43 L496.09 451.31 L496.74 451.17 L497.4 451.08 L498.05 450.9 L498.71 450.87 L499.36 450.89 L500.01 450.25 L500.67 450.83 L501.32 450.68 L501.98 450.25 L502.63 450.6 L503.29 450.66 L503.94 450.4 L504.6 450.94 L505.25 451.27 L505.91 450.25 L506.56 450.72 L507.22 450.67 L507.87 451.24 L508.53 450.49 L509.18 450.9 L509.84 450.6 L510.49 451 L511.15 450.3 L511.8 450.9 L512.45 451.01 L513.11 450.33 L513.76 451.07 L514.42 451.01 L515.07 450.77 L515.73 450.23 L516.38 451.18 L517.04 451.08 L517.69 450.43 L518.35 451.23 L519 450.85 L519.66 450.45 L520.31 450.53 L520.97 450.44 L521.62 451.18 L522.28 450.33 L522.93 450.92 L523.59 450.41 L524.24 450.79 L524.9 450.33 L525.55 450.78 L526.2 451.03 L526.86 451.15 L527.51 450.76 L528.17 451.26 L528.82 451.13 L529.48 450.35 L530.13 450.68 L530.79 450.36 L531.44 451.15 L532.1 450.78 L532.75 450.79 L533.41 451.19 L534.06 451.02 L534.72 450.29 L535.37 450.51 L536.03 450.75 L536.68 450.64 L537.34 450.36 L537.99 450.26 L538.64 450.66 L539.3 451.26 L539.95 450.35 L540.61 451.13 L541.26 451.05 L541.92 451.16 L542.57 450.75 L543.23 450.67 L543.88 450.8 L544.54 450.79 L545.19 451.16 L545.85 450.52 L546.5 450.72 L547.16 450.97 L547.81 450.39 L548.47 450.28 L549.12 450.29 L549.78 450.22 L550.43 451.24 L551.09 450.88 L551.74 450.82 L552.39 451.03 L553.05 450.49 L553.7 450.31 L554.36 451.16 L555.01 450.75 L555.67 450.24 L556.32 450.33 L556.98 450.81 L557.63 451.2 L558.29 450.81 L558.94 450.74 L559.6 450.44 L560.25 451.11 L560.91 451 L561.56 450.22 L562.22 451.3 L562.87 450.64 L563.53 451.21 L564.18 450.48 L564.83 450.84 L565.49 450.29 L566.14 451.07 L566.8 450.34 L567.45 451.06 L568.11 451.26 L568.76 451.22 L569.42 451.23 L570.07 450.88 L570.73 450.24 L571.38 450.92 L572.04 450.52 L572.69 451.27 L573.35 450.74 L574 450.72 L574.66 451.2 L575.31 450.67 L575.97 450.82 L576.62 450.95 L577.28 450.4 L577.93 450.55 L578.58 451.18 L579.24 451.19 L579.89 451.25 L580.55 451.02 L581.2 450.61 L581.86 450.24 L582.51 450.24 L583.17 450.36 L583.82 451.17 L584.48 450.44 L585.13 450.47 L585.79 450.79 L586.44 450.21 L587.1 450.65 L587.75 451.18 L588.41 451.07 L589.06 451.17 L589.72 450.64 L590.37 450.62 L591.02 450.37 L591.68 451.3 L592.33 451.3 L592.99 450.24 L593.64 451.02 L594.3 451.02 L594.95 450.36 L595.61 451.19 L596.26 450.44 L596.92 450.32 L597.57 450.69 L598.23 450.64 L598.88 451.31 L599.54 450.64 L600.19 450.63 L600.85 450.46 L601.5 450.74 L602.16 451.19 L602.81 451.07 L603.47 450.59 L604.12 451.22 L604.77 451.19 L605.43 451.04 L606.08 450.43 L606.74 450.71 L607.39 450.92 L608.05 450.25 L608.7 450.67 L609.36 451.05 L610.01 450.69 L610.67 450.37 L611.32 450.91 L611.98 450.83 L612.63 450.67 L613.29 450.22 L613.94 450.61 L614.6 451.11 L615.25 450.67 L615.91 450.96 L616.56 450.79 L617.21 450.52 L617.87 451.29 L618.52 450.75 L619.18 450.97 L619.83 450.65 L620.49 450.41 L621.14 450.8 L621.8 450.62 L622.45 450.99 L623.11 451.03 L623.76 450.75 L624.42 450.72 L625.07 451.07 L625.73 450.47 L626.38 450.76 L627.04 450.92 L627.69 451.03 L628.35 450.39 L629 450.32 L629.66 450.28 L630.31 451.04 L630.96 451.23 L631.62 450.61 L632.27 451.28 L632.93 450.37 L633.58 450.56 L634.24 450.94 L634.89 450.82 L635.55 450.56 L636.2 451.14 L636.86 450.91 L637.51 450.44 L638.17 450.56 L638.82 450.67 L639.48 451.2 L640.13 451.07 L640.79 451.03 L641.44 451.28 L642.1 450.61 L642.75 450.68 L643.4 450.29 L644.06 450.7 L644.71 450.3 L645.37 450.79 L645.5 452.6 Z" fill="#f0200f" stroke="none"/>
<rect x="384.1" y="416.72" width="3.12" height="35.88" fill="#e08585"/>
<rect x="383.6" y="268.6" width="261.9" height="184" fill="none" stroke="#111" stroke-width="1.6"/>
<path d="M383.6 452.6H645.5" stroke="#5a0a05" stroke-width="1.8"/>
<text x="379.6" y="456.27" text-anchor="end" font-size="10.2" fill="#3a3a3a" font-family='"Liberation Sans", sans-serif'>0</text>
<text x="379.6" y="437.87" text-anchor="end" font-size="10.2" fill="#3a3a3a" font-family='"Liberation Sans", sans-serif'>2</text>
<text x="379.6" y="419.47" text-anchor="end" font-size="10.2" fill="#3a3a3a" font-family='"Liberation Sans", sans-serif'>4</text>
<text x="379.6" y="401.07" text-anchor="end" font-size="10.2" fill="#3a3a3a" font-family='"Liberation Sans", sans-serif'>6</text>
<text x="379.6" y="382.67" text-anchor="end" font-size="10.2" fill="#3a3a3a" font-family='"Liberation Sans", sans-serif'>8</text>
<text x="379.6" y="364.27" text-anchor="end" font-size="10.2" fill="#3a3a3a" font-family='"Liberation Sans", sans-serif'>10</text>
<text x="379.6" y="345.87" text-anchor="end" font-size="10.2" fill="#3a3a3a" font-family='"Liberation Sans", sans-serif'>12</text>
<text x="379.6" y="327.47" text-anchor="end" font-size="10.2" fill="#3a3a3a" font-family='"Liberation Sans", sans-serif'>14</text>
<text x="379.6" y="309.07" text-anchor="end" font-size="10.2" fill="#3a3a3a" font-family='"Liberation Sans", sans-serif'>16</text>
<text x="379.6" y="290.67" text-anchor="end" font-size="10.2" fill="#3a3a3a" font-family='"Liberation Sans", sans-serif'>18</text>
<text x="379.6" y="272.27" text-anchor="end" font-size="10.2" fill="#3a3a3a" font-family='"Liberation Sans", sans-serif'>20</text>
<text x="383.3" y="466.8" text-anchor="middle" font-size="9.5" fill="#3a3a3a" font-family='"Liberation Sans", sans-serif'>0x10<tspan font-size="5.32" dy="-4.3">0</tspan></text>
<text x="435.68" y="466.8" text-anchor="middle" font-size="9.5" fill="#3a3a3a" font-family='"Liberation Sans", sans-serif'>2x10<tspan font-size="5.32" dy="-4.3">7</tspan></text>
<text x="488.06" y="466.8" text-anchor="middle" font-size="9.5" fill="#3a3a3a" font-family='"Liberation Sans", sans-serif'>4x10<tspan font-size="5.32" dy="-4.3">7</tspan></text>
<text x="540.44" y="466.8" text-anchor="middle" font-size="9.5" fill="#3a3a3a" font-family='"Liberation Sans", sans-serif'>6x10<tspan font-size="5.32" dy="-4.3">7</tspan></text>
<text x="592.82" y="466.8" text-anchor="middle" font-size="9.5" fill="#3a3a3a" font-family='"Liberation Sans", sans-serif'>8x10<tspan font-size="5.32" dy="-4.3">7</tspan></text>
<text x="645.2" y="466.8" text-anchor="middle" font-size="9.5" fill="#3a3a3a" font-family='"Liberation Sans", sans-serif'>1x10<tspan font-size="5.32" dy="-4.3">8</tspan></text>
<text x="513.8" y="477.2" text-anchor="middle" font-size="9.6" fill="#333" font-family='"Liberation Sans", sans-serif' letter-spacing="0.2">Frequency (Hz)</text>
<rect x="512.8" y="268.6" width="132.7" height="43.5" fill="#fff" stroke="#111" stroke-width="1.5"/>
<text x="516.3" y="283.1" font-size="9.5" fill="#1c1c1c" font-family='"Liberation Sans", sans-serif' textLength="123.4" lengthAdjust="spacingAndGlyphs">Spread Spectrum Modulation</text>
<path d="M549.5 291.3H567.7" stroke="#111" stroke-width="1.6"/>
<path d="M549.5 302H567.7" stroke="#ee2a1c" stroke-width="1.6"/>
<text x="572.6" y="293.68" font-size="9.5" fill="#1c1c1c" font-family='"Liberation Sans", sans-serif' letter-spacing="0.2">OFF</text>
<text x="572.6" y="304.38" font-size="9.5" fill="#1c1c1c" font-family='"Liberation Sans", sans-serif'>Random</text>
<text transform="translate(13 370.5) rotate(-90)" text-anchor="middle" font-size="8.8" fill="#3a3a3a" font-family='"Liberation Sans", sans-serif'>V<tspan font-size="6.16" dy="1.6">OUT</tspan><tspan dy="-1.6"> Ripple (µV</tspan><tspan font-size="6.16" dy="1.6">RMS</tspan><tspan dy="-1.6">)</tspan></text>
<text transform="translate(361.3 361) rotate(-90)" text-anchor="middle" font-size="9.6" fill="#3a3a3a" font-family='"Liberation Sans", sans-serif'>V<tspan font-size="6.72" dy="1.6">OUT</tspan><tspan dy="-1.6"> Ripple (µV</tspan><tspan font-size="6.72" dy="1.6">RMS</tspan><tspan dy="-1.6">)</tspan></text>
<text x="171.2" y="505.3" text-anchor="middle" font-size="16.5" fill="#3a3a3a" font-family='"Liberation Sans", sans-serif'>(a)</text>
<text x="496" y="505.6" font-size="19" fill="#d3e3cc" font-family='"Liberation Sans", sans-serif' textLength="163" lengthAdjust="spacingAndGlyphs">www.cntronics.com</text>
<text x="571.8" y="505.3" text-anchor="middle" font-size="16.5" fill="#2f3a2f" font-family='"Liberation Sans", sans-serif'>(b)</text>
</g></svg></body></html>
